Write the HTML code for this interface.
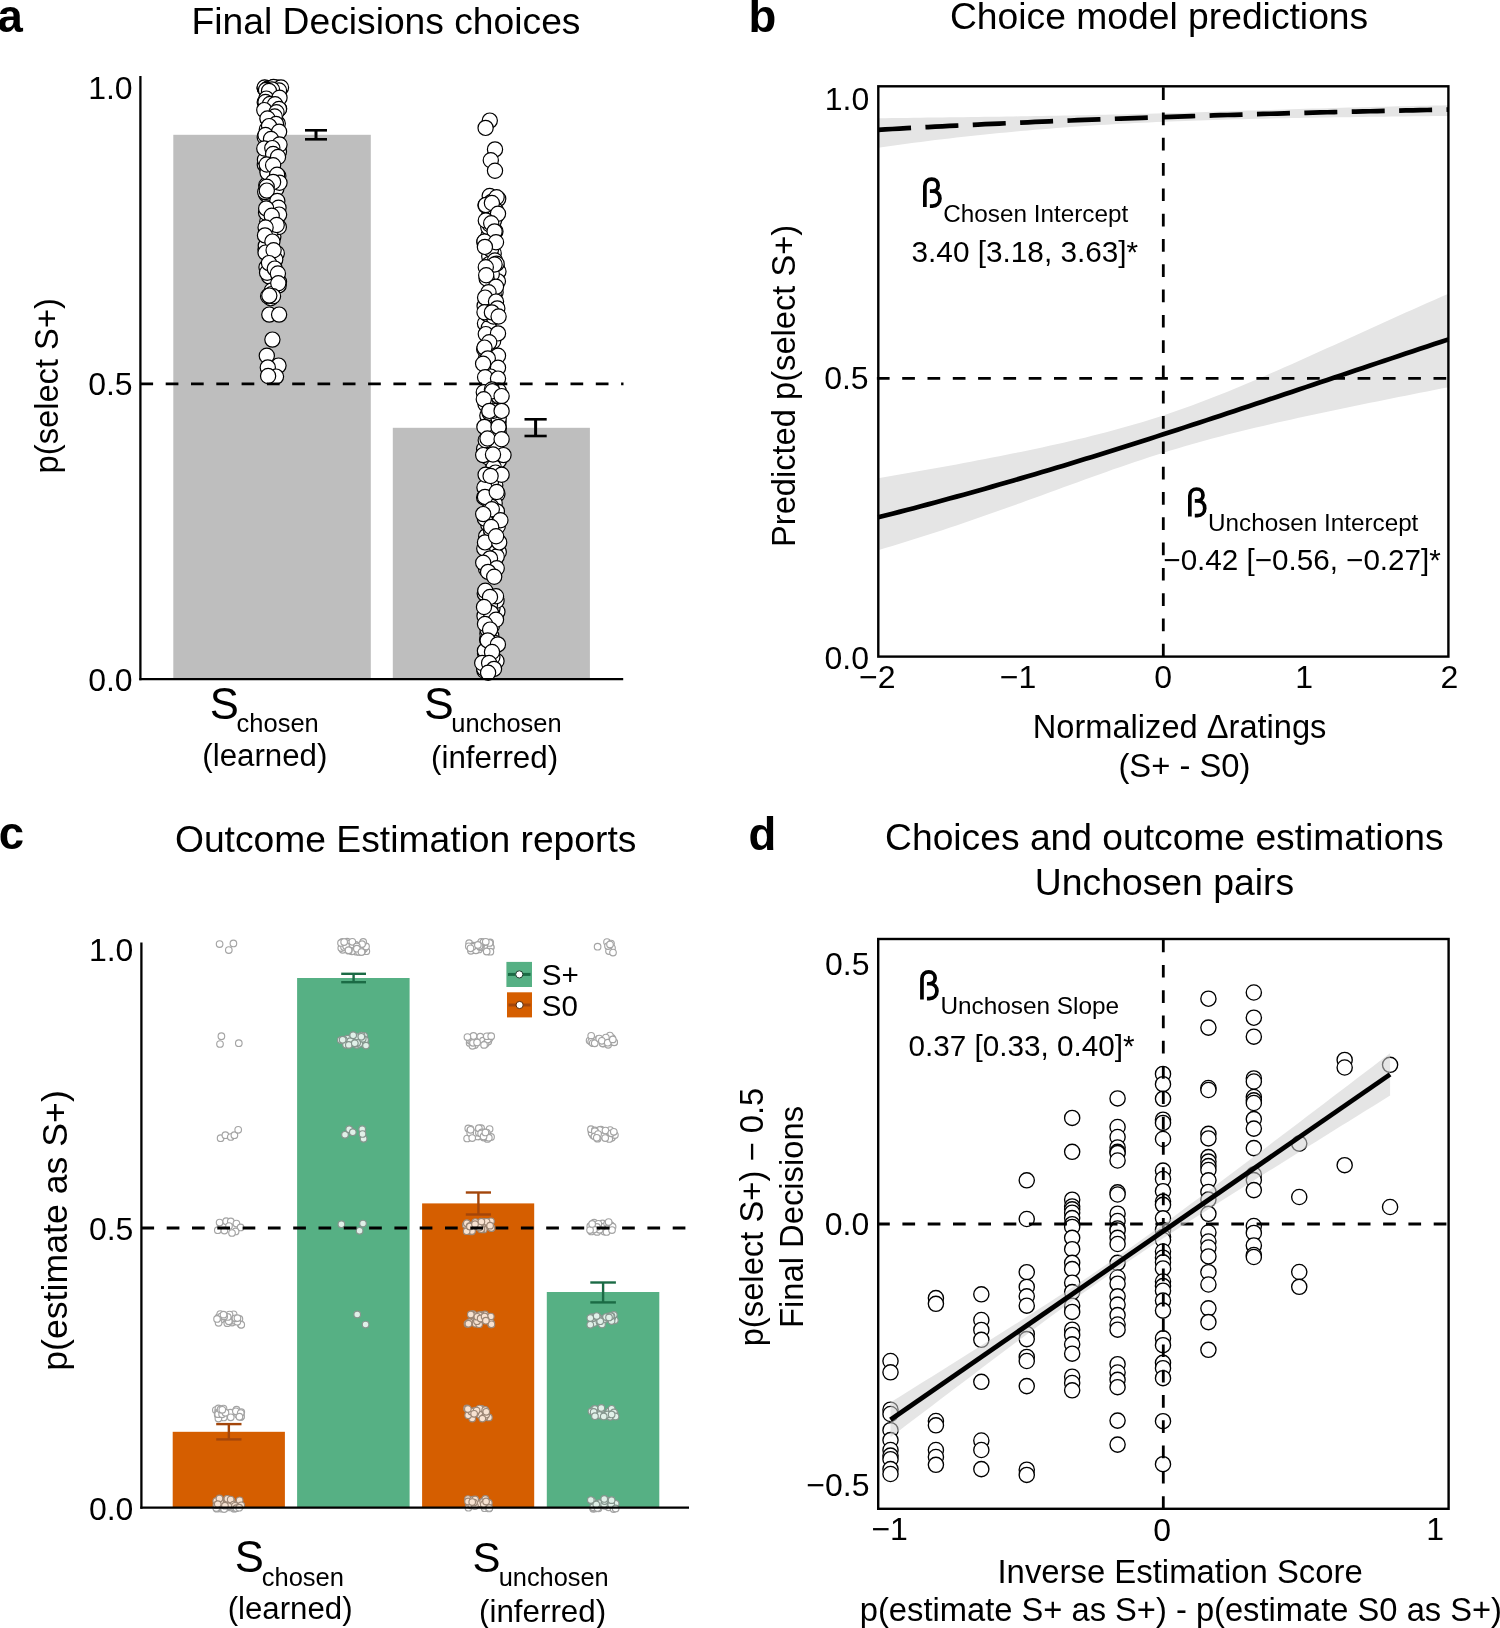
<!DOCTYPE html>
<html><head><meta charset="utf-8"><title>figure</title>
<style>
html,body{margin:0;padding:0;background:#fff;}
svg{display:block;will-change:transform;}
text{font-family:"Liberation Sans", sans-serif;fill:#000;}
</style></head><body>
<svg width="1500" height="1628" viewBox="0 0 1500 1628">
<rect x="0" y="0" width="1500" height="1628" fill="#fff"/>
<g id="pa">
<rect x="173.30" y="134.80" width="197.50" height="544.20" fill="#bebebe"/>
<rect x="392.80" y="427.80" width="197.10" height="251.20" fill="#bebebe"/>
<circle cx="264.83" cy="164.69" r="7.6" fill="#fff" stroke="#000" stroke-width="1.2"/>
<circle cx="497.74" cy="526.29" r="7.6" fill="#fff" stroke="#000" stroke-width="1.2"/>
<circle cx="485.91" cy="619.26" r="7.6" fill="#fff" stroke="#000" stroke-width="1.2"/>
<circle cx="492.10" cy="598.48" r="7.6" fill="#fff" stroke="#000" stroke-width="1.2"/>
<circle cx="493.50" cy="303.44" r="7.6" fill="#fff" stroke="#000" stroke-width="1.2"/>
<circle cx="269.31" cy="146.36" r="7.6" fill="#fff" stroke="#000" stroke-width="1.2"/>
<circle cx="493.14" cy="463.95" r="7.6" fill="#fff" stroke="#000" stroke-width="1.2"/>
<circle cx="487.12" cy="639.74" r="7.6" fill="#fff" stroke="#000" stroke-width="1.2"/>
<circle cx="487.40" cy="542.64" r="7.6" fill="#fff" stroke="#000" stroke-width="1.2"/>
<circle cx="486.23" cy="536.17" r="7.6" fill="#fff" stroke="#000" stroke-width="1.2"/>
<circle cx="488.49" cy="235.49" r="7.6" fill="#fff" stroke="#000" stroke-width="1.2"/>
<circle cx="484.10" cy="449.07" r="7.6" fill="#fff" stroke="#000" stroke-width="1.2"/>
<circle cx="492.96" cy="424.52" r="7.6" fill="#fff" stroke="#000" stroke-width="1.2"/>
<circle cx="276.43" cy="89.38" r="7.6" fill="#fff" stroke="#000" stroke-width="1.2"/>
<circle cx="494.73" cy="562.27" r="7.6" fill="#fff" stroke="#000" stroke-width="1.2"/>
<circle cx="493.65" cy="253.20" r="7.6" fill="#fff" stroke="#000" stroke-width="1.2"/>
<circle cx="487.86" cy="245.74" r="7.6" fill="#fff" stroke="#000" stroke-width="1.2"/>
<circle cx="489.70" cy="195.98" r="7.6" fill="#fff" stroke="#000" stroke-width="1.2"/>
<circle cx="487.02" cy="331.67" r="7.6" fill="#fff" stroke="#000" stroke-width="1.2"/>
<circle cx="269.13" cy="276.41" r="7.6" fill="#fff" stroke="#000" stroke-width="1.2"/>
<circle cx="489.66" cy="361.07" r="7.6" fill="#fff" stroke="#000" stroke-width="1.2"/>
<circle cx="491.25" cy="635.77" r="7.6" fill="#fff" stroke="#000" stroke-width="1.2"/>
<circle cx="266.03" cy="194.08" r="7.6" fill="#fff" stroke="#000" stroke-width="1.2"/>
<circle cx="495.20" cy="469.24" r="7.6" fill="#fff" stroke="#000" stroke-width="1.2"/>
<circle cx="484.12" cy="497.56" r="7.6" fill="#fff" stroke="#000" stroke-width="1.2"/>
<circle cx="278.66" cy="285.41" r="7.6" fill="#fff" stroke="#000" stroke-width="1.2"/>
<circle cx="491.49" cy="201.88" r="7.6" fill="#fff" stroke="#000" stroke-width="1.2"/>
<circle cx="272.57" cy="114.76" r="7.6" fill="#fff" stroke="#000" stroke-width="1.2"/>
<circle cx="487.97" cy="457.31" r="7.6" fill="#fff" stroke="#000" stroke-width="1.2"/>
<circle cx="491.09" cy="319.45" r="7.6" fill="#fff" stroke="#000" stroke-width="1.2"/>
<circle cx="488.41" cy="479.06" r="7.6" fill="#fff" stroke="#000" stroke-width="1.2"/>
<circle cx="264.73" cy="102.34" r="7.6" fill="#fff" stroke="#000" stroke-width="1.2"/>
<circle cx="489.48" cy="213.57" r="7.6" fill="#fff" stroke="#000" stroke-width="1.2"/>
<circle cx="484.99" cy="323.47" r="7.6" fill="#fff" stroke="#000" stroke-width="1.2"/>
<circle cx="496.15" cy="378.64" r="7.6" fill="#fff" stroke="#000" stroke-width="1.2"/>
<circle cx="271.54" cy="87.99" r="7.6" fill="#fff" stroke="#000" stroke-width="1.2"/>
<circle cx="489.76" cy="508.78" r="7.6" fill="#fff" stroke="#000" stroke-width="1.2"/>
<circle cx="490.99" cy="336.56" r="7.6" fill="#fff" stroke="#000" stroke-width="1.2"/>
<circle cx="267.76" cy="104.23" r="7.6" fill="#fff" stroke="#000" stroke-width="1.2"/>
<circle cx="498.51" cy="422.83" r="7.6" fill="#fff" stroke="#000" stroke-width="1.2"/>
<circle cx="272.63" cy="204.12" r="7.6" fill="#fff" stroke="#000" stroke-width="1.2"/>
<circle cx="276.74" cy="253.26" r="7.6" fill="#fff" stroke="#000" stroke-width="1.2"/>
<circle cx="274.65" cy="218.99" r="7.6" fill="#fff" stroke="#000" stroke-width="1.2"/>
<circle cx="270.05" cy="162.56" r="7.6" fill="#fff" stroke="#000" stroke-width="1.2"/>
<circle cx="271.83" cy="290.46" r="7.6" fill="#fff" stroke="#000" stroke-width="1.2"/>
<circle cx="498.21" cy="198.85" r="7.6" fill="#fff" stroke="#000" stroke-width="1.2"/>
<circle cx="275.60" cy="89.34" r="7.6" fill="#fff" stroke="#000" stroke-width="1.2"/>
<circle cx="271.38" cy="240.34" r="7.6" fill="#fff" stroke="#000" stroke-width="1.2"/>
<circle cx="498.78" cy="552.00" r="7.6" fill="#fff" stroke="#000" stroke-width="1.2"/>
<circle cx="497.48" cy="400.00" r="7.6" fill="#fff" stroke="#000" stroke-width="1.2"/>
<circle cx="488.06" cy="452.87" r="7.6" fill="#fff" stroke="#000" stroke-width="1.2"/>
<circle cx="495.22" cy="485.18" r="7.6" fill="#fff" stroke="#000" stroke-width="1.2"/>
<circle cx="496.24" cy="538.14" r="7.6" fill="#fff" stroke="#000" stroke-width="1.2"/>
<circle cx="494.46" cy="642.86" r="7.6" fill="#fff" stroke="#000" stroke-width="1.2"/>
<circle cx="492.68" cy="375.52" r="7.6" fill="#fff" stroke="#000" stroke-width="1.2"/>
<circle cx="494.46" cy="520.87" r="7.6" fill="#fff" stroke="#000" stroke-width="1.2"/>
<circle cx="497.40" cy="494.09" r="7.6" fill="#fff" stroke="#000" stroke-width="1.2"/>
<circle cx="264.96" cy="159.78" r="7.6" fill="#fff" stroke="#000" stroke-width="1.2"/>
<circle cx="495.78" cy="454.49" r="7.6" fill="#fff" stroke="#000" stroke-width="1.2"/>
<circle cx="496.07" cy="383.28" r="7.6" fill="#fff" stroke="#000" stroke-width="1.2"/>
<circle cx="498.93" cy="460.59" r="7.6" fill="#fff" stroke="#000" stroke-width="1.2"/>
<circle cx="273.62" cy="198.44" r="7.6" fill="#fff" stroke="#000" stroke-width="1.2"/>
<circle cx="493.13" cy="341.18" r="7.6" fill="#fff" stroke="#000" stroke-width="1.2"/>
<circle cx="493.25" cy="406.28" r="7.6" fill="#fff" stroke="#000" stroke-width="1.2"/>
<circle cx="276.34" cy="94.48" r="7.6" fill="#fff" stroke="#000" stroke-width="1.2"/>
<circle cx="278.99" cy="281.70" r="7.6" fill="#fff" stroke="#000" stroke-width="1.2"/>
<circle cx="498.81" cy="427.99" r="7.6" fill="#fff" stroke="#000" stroke-width="1.2"/>
<circle cx="491.46" cy="532.66" r="7.6" fill="#fff" stroke="#000" stroke-width="1.2"/>
<circle cx="273.71" cy="97.65" r="7.6" fill="#fff" stroke="#000" stroke-width="1.2"/>
<circle cx="269.76" cy="200.85" r="7.6" fill="#fff" stroke="#000" stroke-width="1.2"/>
<circle cx="270.65" cy="298.29" r="7.6" fill="#fff" stroke="#000" stroke-width="1.2"/>
<circle cx="485.50" cy="205.34" r="7.6" fill="#fff" stroke="#000" stroke-width="1.2"/>
<circle cx="488.35" cy="566.84" r="7.6" fill="#fff" stroke="#000" stroke-width="1.2"/>
<circle cx="488.83" cy="327.76" r="7.6" fill="#fff" stroke="#000" stroke-width="1.2"/>
<circle cx="485.03" cy="653.25" r="7.6" fill="#fff" stroke="#000" stroke-width="1.2"/>
<circle cx="273.32" cy="236.65" r="7.6" fill="#fff" stroke="#000" stroke-width="1.2"/>
<circle cx="488.42" cy="665.09" r="7.6" fill="#fff" stroke="#000" stroke-width="1.2"/>
<circle cx="272.66" cy="88.65" r="7.6" fill="#fff" stroke="#000" stroke-width="1.2"/>
<circle cx="494.56" cy="553.10" r="7.6" fill="#fff" stroke="#000" stroke-width="1.2"/>
<circle cx="497.40" cy="611.75" r="7.6" fill="#fff" stroke="#000" stroke-width="1.2"/>
<circle cx="484.75" cy="593.62" r="7.6" fill="#fff" stroke="#000" stroke-width="1.2"/>
<circle cx="484.29" cy="548.45" r="7.6" fill="#fff" stroke="#000" stroke-width="1.2"/>
<circle cx="495.44" cy="231.38" r="7.6" fill="#fff" stroke="#000" stroke-width="1.2"/>
<circle cx="490.83" cy="491.83" r="7.6" fill="#fff" stroke="#000" stroke-width="1.2"/>
<circle cx="487.34" cy="415.58" r="7.6" fill="#fff" stroke="#000" stroke-width="1.2"/>
<circle cx="276.65" cy="143.16" r="7.6" fill="#fff" stroke="#000" stroke-width="1.2"/>
<circle cx="492.16" cy="370.08" r="7.6" fill="#fff" stroke="#000" stroke-width="1.2"/>
<circle cx="266.83" cy="129.53" r="7.6" fill="#fff" stroke="#000" stroke-width="1.2"/>
<circle cx="493.16" cy="365.39" r="7.6" fill="#fff" stroke="#000" stroke-width="1.2"/>
<circle cx="485.88" cy="358.46" r="7.6" fill="#fff" stroke="#000" stroke-width="1.2"/>
<circle cx="493.70" cy="467.21" r="7.6" fill="#fff" stroke="#000" stroke-width="1.2"/>
<circle cx="498.86" cy="433.98" r="7.6" fill="#fff" stroke="#000" stroke-width="1.2"/>
<circle cx="493.72" cy="560.90" r="7.6" fill="#fff" stroke="#000" stroke-width="1.2"/>
<circle cx="278.27" cy="176.08" r="7.6" fill="#fff" stroke="#000" stroke-width="1.2"/>
<circle cx="490.64" cy="310.50" r="7.6" fill="#fff" stroke="#000" stroke-width="1.2"/>
<circle cx="266.49" cy="267.37" r="7.6" fill="#fff" stroke="#000" stroke-width="1.2"/>
<circle cx="269.10" cy="133.81" r="7.6" fill="#fff" stroke="#000" stroke-width="1.2"/>
<circle cx="492.01" cy="475.67" r="7.6" fill="#fff" stroke="#000" stroke-width="1.2"/>
<circle cx="496.90" cy="267.38" r="7.6" fill="#fff" stroke="#000" stroke-width="1.2"/>
<circle cx="484.94" cy="650.84" r="7.6" fill="#fff" stroke="#000" stroke-width="1.2"/>
<circle cx="496.50" cy="660.96" r="7.6" fill="#fff" stroke="#000" stroke-width="1.2"/>
<circle cx="488.25" cy="524.56" r="7.6" fill="#fff" stroke="#000" stroke-width="1.2"/>
<circle cx="493.69" cy="238.36" r="7.6" fill="#fff" stroke="#000" stroke-width="1.2"/>
<circle cx="486.18" cy="569.22" r="7.6" fill="#fff" stroke="#000" stroke-width="1.2"/>
<circle cx="489.28" cy="256.49" r="7.6" fill="#fff" stroke="#000" stroke-width="1.2"/>
<circle cx="492.37" cy="656.98" r="7.6" fill="#fff" stroke="#000" stroke-width="1.2"/>
<circle cx="490.64" cy="442.59" r="7.6" fill="#fff" stroke="#000" stroke-width="1.2"/>
<circle cx="264.94" cy="88.43" r="7.6" fill="#fff" stroke="#000" stroke-width="1.2"/>
<circle cx="485.28" cy="590.76" r="7.6" fill="#fff" stroke="#000" stroke-width="1.2"/>
<circle cx="490.96" cy="481.72" r="7.6" fill="#fff" stroke="#000" stroke-width="1.2"/>
<circle cx="278.65" cy="88.80" r="7.6" fill="#fff" stroke="#000" stroke-width="1.2"/>
<circle cx="277.75" cy="123.60" r="7.6" fill="#fff" stroke="#000" stroke-width="1.2"/>
<circle cx="494.86" cy="287.94" r="7.6" fill="#fff" stroke="#000" stroke-width="1.2"/>
<circle cx="275.65" cy="156.69" r="7.6" fill="#fff" stroke="#000" stroke-width="1.2"/>
<circle cx="489.61" cy="412.86" r="7.6" fill="#fff" stroke="#000" stroke-width="1.2"/>
<circle cx="488.41" cy="515.66" r="7.6" fill="#fff" stroke="#000" stroke-width="1.2"/>
<circle cx="269.73" cy="178.11" r="7.6" fill="#fff" stroke="#000" stroke-width="1.2"/>
<circle cx="495.78" cy="446.65" r="7.6" fill="#fff" stroke="#000" stroke-width="1.2"/>
<circle cx="484.51" cy="615.89" r="7.6" fill="#fff" stroke="#000" stroke-width="1.2"/>
<circle cx="487.40" cy="314.17" r="7.6" fill="#fff" stroke="#000" stroke-width="1.2"/>
<circle cx="498.68" cy="418.76" r="7.6" fill="#fff" stroke="#000" stroke-width="1.2"/>
<circle cx="274.78" cy="121.73" r="7.6" fill="#fff" stroke="#000" stroke-width="1.2"/>
<circle cx="493.15" cy="397.70" r="7.6" fill="#fff" stroke="#000" stroke-width="1.2"/>
<circle cx="487.67" cy="346.01" r="7.6" fill="#fff" stroke="#000" stroke-width="1.2"/>
<circle cx="485.75" cy="440.24" r="7.6" fill="#fff" stroke="#000" stroke-width="1.2"/>
<circle cx="273.83" cy="263.58" r="7.6" fill="#fff" stroke="#000" stroke-width="1.2"/>
<circle cx="489.31" cy="264.09" r="7.6" fill="#fff" stroke="#000" stroke-width="1.2"/>
<circle cx="278.01" cy="87.73" r="7.6" fill="#fff" stroke="#000" stroke-width="1.2"/>
<circle cx="279.04" cy="108.74" r="7.6" fill="#fff" stroke="#000" stroke-width="1.2"/>
<circle cx="484.37" cy="241.89" r="7.6" fill="#fff" stroke="#000" stroke-width="1.2"/>
<circle cx="495.59" cy="292.36" r="7.6" fill="#fff" stroke="#000" stroke-width="1.2"/>
<circle cx="498.45" cy="271.51" r="7.6" fill="#fff" stroke="#000" stroke-width="1.2"/>
<circle cx="488.25" cy="436.95" r="7.6" fill="#fff" stroke="#000" stroke-width="1.2"/>
<circle cx="487.41" cy="633.50" r="7.6" fill="#fff" stroke="#000" stroke-width="1.2"/>
<circle cx="492.46" cy="608.48" r="7.6" fill="#fff" stroke="#000" stroke-width="1.2"/>
<circle cx="491.09" cy="623.32" r="7.6" fill="#fff" stroke="#000" stroke-width="1.2"/>
<circle cx="495.51" cy="216.99" r="7.6" fill="#fff" stroke="#000" stroke-width="1.2"/>
<circle cx="265.23" cy="192.09" r="7.6" fill="#fff" stroke="#000" stroke-width="1.2"/>
<circle cx="495.62" cy="210.13" r="7.6" fill="#fff" stroke="#000" stroke-width="1.2"/>
<circle cx="274.99" cy="148.71" r="7.6" fill="#fff" stroke="#000" stroke-width="1.2"/>
<circle cx="271.71" cy="294.08" r="7.6" fill="#fff" stroke="#000" stroke-width="1.2"/>
<circle cx="272.36" cy="182.15" r="7.6" fill="#fff" stroke="#000" stroke-width="1.2"/>
<circle cx="490.40" cy="500.15" r="7.6" fill="#fff" stroke="#000" stroke-width="1.2"/>
<circle cx="496.53" cy="600.77" r="7.6" fill="#fff" stroke="#000" stroke-width="1.2"/>
<circle cx="493.92" cy="295.64" r="7.6" fill="#fff" stroke="#000" stroke-width="1.2"/>
<circle cx="267.69" cy="118.48" r="7.6" fill="#fff" stroke="#000" stroke-width="1.2"/>
<circle cx="276.34" cy="188.72" r="7.6" fill="#fff" stroke="#000" stroke-width="1.2"/>
<circle cx="266.28" cy="185.30" r="7.6" fill="#fff" stroke="#000" stroke-width="1.2"/>
<circle cx="267.26" cy="221.60" r="7.6" fill="#fff" stroke="#000" stroke-width="1.2"/>
<circle cx="269.63" cy="139.62" r="7.6" fill="#fff" stroke="#000" stroke-width="1.2"/>
<circle cx="489.59" cy="386.48" r="7.6" fill="#fff" stroke="#000" stroke-width="1.2"/>
<circle cx="492.90" cy="391.53" r="7.6" fill="#fff" stroke="#000" stroke-width="1.2"/>
<circle cx="490.96" cy="249.63" r="7.6" fill="#fff" stroke="#000" stroke-width="1.2"/>
<circle cx="494.66" cy="503.26" r="7.6" fill="#fff" stroke="#000" stroke-width="1.2"/>
<circle cx="488.30" cy="227.37" r="7.6" fill="#fff" stroke="#000" stroke-width="1.2"/>
<circle cx="498.45" cy="395.94" r="7.6" fill="#fff" stroke="#000" stroke-width="1.2"/>
<circle cx="484.48" cy="670.80" r="7.6" fill="#fff" stroke="#000" stroke-width="1.2"/>
<circle cx="273.84" cy="88.98" r="7.6" fill="#fff" stroke="#000" stroke-width="1.2"/>
<circle cx="490.00" cy="604.63" r="7.6" fill="#fff" stroke="#000" stroke-width="1.2"/>
<circle cx="485.54" cy="404.13" r="7.6" fill="#fff" stroke="#000" stroke-width="1.2"/>
<circle cx="494.11" cy="647.31" r="7.6" fill="#fff" stroke="#000" stroke-width="1.2"/>
<circle cx="275.88" cy="91.32" r="7.6" fill="#fff" stroke="#000" stroke-width="1.2"/>
<circle cx="278.81" cy="227.07" r="7.6" fill="#fff" stroke="#000" stroke-width="1.2"/>
<circle cx="270.68" cy="230.97" r="7.6" fill="#fff" stroke="#000" stroke-width="1.2"/>
<circle cx="266.09" cy="212.80" r="7.6" fill="#fff" stroke="#000" stroke-width="1.2"/>
<circle cx="264.70" cy="87.93" r="7.6" fill="#fff" stroke="#000" stroke-width="1.2"/>
<circle cx="484.13" cy="668.45" r="7.6" fill="#fff" stroke="#000" stroke-width="1.2"/>
<circle cx="264.75" cy="137.16" r="7.6" fill="#fff" stroke="#000" stroke-width="1.2"/>
<circle cx="268.92" cy="112.12" r="7.6" fill="#fff" stroke="#000" stroke-width="1.2"/>
<circle cx="493.41" cy="316.48" r="7.6" fill="#fff" stroke="#000" stroke-width="1.2"/>
<circle cx="269.44" cy="208.35" r="7.6" fill="#fff" stroke="#000" stroke-width="1.2"/>
<circle cx="265.46" cy="249.49" r="7.6" fill="#fff" stroke="#000" stroke-width="1.2"/>
<circle cx="495.46" cy="472.60" r="7.6" fill="#fff" stroke="#000" stroke-width="1.2"/>
<circle cx="484.45" cy="487.50" r="7.6" fill="#fff" stroke="#000" stroke-width="1.2"/>
<circle cx="268.69" cy="89.33" r="7.6" fill="#fff" stroke="#000" stroke-width="1.2"/>
<circle cx="490.22" cy="430.64" r="7.6" fill="#fff" stroke="#000" stroke-width="1.2"/>
<circle cx="494.29" cy="285.44" r="7.6" fill="#fff" stroke="#000" stroke-width="1.2"/>
<circle cx="488.27" cy="353.42" r="7.6" fill="#fff" stroke="#000" stroke-width="1.2"/>
<circle cx="484.90" cy="518.67" r="7.6" fill="#fff" stroke="#000" stroke-width="1.2"/>
<circle cx="489.51" cy="224.21" r="7.6" fill="#fff" stroke="#000" stroke-width="1.2"/>
<circle cx="491.17" cy="530.10" r="7.6" fill="#fff" stroke="#000" stroke-width="1.2"/>
<circle cx="497.89" cy="281.35" r="7.6" fill="#fff" stroke="#000" stroke-width="1.2"/>
<circle cx="267.34" cy="169.71" r="7.6" fill="#fff" stroke="#000" stroke-width="1.2"/>
<circle cx="487.54" cy="629.60" r="7.6" fill="#fff" stroke="#000" stroke-width="1.2"/>
<circle cx="484.60" cy="305.92" r="7.6" fill="#fff" stroke="#000" stroke-width="1.2"/>
<circle cx="491.76" cy="274.26" r="7.6" fill="#fff" stroke="#000" stroke-width="1.2"/>
<circle cx="493.36" cy="574.09" r="7.6" fill="#fff" stroke="#000" stroke-width="1.2"/>
<circle cx="491.22" cy="506.82" r="7.6" fill="#fff" stroke="#000" stroke-width="1.2"/>
<circle cx="494.97" cy="260.46" r="7.6" fill="#fff" stroke="#000" stroke-width="1.2"/>
<circle cx="493.89" cy="220.72" r="7.6" fill="#fff" stroke="#000" stroke-width="1.2"/>
<circle cx="267.09" cy="272.69" r="7.6" fill="#fff" stroke="#000" stroke-width="1.2"/>
<circle cx="486.63" cy="278.47" r="7.6" fill="#fff" stroke="#000" stroke-width="1.2"/>
<circle cx="493.31" cy="299.95" r="7.6" fill="#fff" stroke="#000" stroke-width="1.2"/>
<circle cx="496.85" cy="511.39" r="7.6" fill="#fff" stroke="#000" stroke-width="1.2"/>
<circle cx="490.19" cy="571.32" r="7.6" fill="#fff" stroke="#000" stroke-width="1.2"/>
<circle cx="267.57" cy="172.51" r="7.6" fill="#fff" stroke="#000" stroke-width="1.2"/>
<circle cx="265.78" cy="245.83" r="7.6" fill="#fff" stroke="#000" stroke-width="1.2"/>
<circle cx="493.47" cy="410.78" r="7.6" fill="#fff" stroke="#000" stroke-width="1.2"/>
<circle cx="495.93" cy="545.33" r="7.6" fill="#fff" stroke="#000" stroke-width="1.2"/>
<circle cx="269.97" cy="126.53" r="7.6" fill="#fff" stroke="#000" stroke-width="1.2"/>
<circle cx="278.94" cy="151.85" r="7.6" fill="#fff" stroke="#000" stroke-width="1.2"/>
<circle cx="491.80" cy="626.24" r="7.6" fill="#fff" stroke="#000" stroke-width="1.2"/>
<circle cx="275.24" cy="259.40" r="7.6" fill="#fff" stroke="#000" stroke-width="1.2"/>
<circle cx="496.70" cy="556.44" r="7.6" fill="#fff" stroke="#000" stroke-width="1.2"/>
<circle cx="484.21" cy="349.21" r="7.6" fill="#fff" stroke="#000" stroke-width="1.2"/>
<circle cx="264.70" cy="87.50" r="7.6" fill="#fff" stroke="#000" stroke-width="1.2"/>
<circle cx="268.00" cy="88.50" r="7.6" fill="#fff" stroke="#000" stroke-width="1.2"/>
<circle cx="271.00" cy="88.00" r="7.6" fill="#fff" stroke="#000" stroke-width="1.2"/>
<circle cx="274.00" cy="88.60" r="7.6" fill="#fff" stroke="#000" stroke-width="1.2"/>
<circle cx="277.00" cy="88.00" r="7.6" fill="#fff" stroke="#000" stroke-width="1.2"/>
<circle cx="280.00" cy="88.80" r="7.6" fill="#fff" stroke="#000" stroke-width="1.2"/>
<circle cx="273.50" cy="87.00" r="7.6" fill="#fff" stroke="#000" stroke-width="1.2"/>
<circle cx="281.00" cy="87.50" r="7.6" fill="#fff" stroke="#000" stroke-width="1.2"/>
<circle cx="266.00" cy="90.00" r="7.6" fill="#fff" stroke="#000" stroke-width="1.2"/>
<circle cx="279.00" cy="90.50" r="7.6" fill="#fff" stroke="#000" stroke-width="1.2"/>
<circle cx="272.00" cy="89.50" r="7.6" fill="#fff" stroke="#000" stroke-width="1.2"/>
<circle cx="269.00" cy="91.00" r="7.6" fill="#fff" stroke="#000" stroke-width="1.2"/>
<circle cx="266.30" cy="98.60" r="7.6" fill="#fff" stroke="#000" stroke-width="1.2"/>
<circle cx="279.50" cy="97.80" r="7.6" fill="#fff" stroke="#000" stroke-width="1.2"/>
<circle cx="265.50" cy="102.00" r="7.6" fill="#fff" stroke="#000" stroke-width="1.2"/>
<circle cx="270.00" cy="104.00" r="7.6" fill="#fff" stroke="#000" stroke-width="1.2"/>
<circle cx="275.10" cy="104.20" r="7.6" fill="#fff" stroke="#000" stroke-width="1.2"/>
<circle cx="264.30" cy="110.10" r="7.6" fill="#fff" stroke="#000" stroke-width="1.2"/>
<circle cx="279.00" cy="109.00" r="7.6" fill="#fff" stroke="#000" stroke-width="1.2"/>
<circle cx="276.50" cy="112.20" r="7.6" fill="#fff" stroke="#000" stroke-width="1.2"/>
<circle cx="274.70" cy="116.50" r="7.6" fill="#fff" stroke="#000" stroke-width="1.2"/>
<circle cx="267.50" cy="118.50" r="7.6" fill="#fff" stroke="#000" stroke-width="1.2"/>
<circle cx="276.00" cy="124.00" r="7.6" fill="#fff" stroke="#000" stroke-width="1.2"/>
<circle cx="269.10" cy="126.10" r="7.6" fill="#fff" stroke="#000" stroke-width="1.2"/>
<circle cx="279.10" cy="131.70" r="7.6" fill="#fff" stroke="#000" stroke-width="1.2"/>
<circle cx="265.50" cy="135.00" r="7.6" fill="#fff" stroke="#000" stroke-width="1.2"/>
<circle cx="271.00" cy="139.00" r="7.6" fill="#fff" stroke="#000" stroke-width="1.2"/>
<circle cx="279.50" cy="144.50" r="7.6" fill="#fff" stroke="#000" stroke-width="1.2"/>
<circle cx="264.30" cy="148.50" r="7.6" fill="#fff" stroke="#000" stroke-width="1.2"/>
<circle cx="272.30" cy="148.10" r="7.6" fill="#fff" stroke="#000" stroke-width="1.2"/>
<circle cx="273.10" cy="154.00" r="7.6" fill="#fff" stroke="#000" stroke-width="1.2"/>
<circle cx="278.00" cy="157.00" r="7.6" fill="#fff" stroke="#000" stroke-width="1.2"/>
<circle cx="266.70" cy="164.50" r="7.6" fill="#fff" stroke="#000" stroke-width="1.2"/>
<circle cx="273.10" cy="165.30" r="7.6" fill="#fff" stroke="#000" stroke-width="1.2"/>
<circle cx="277.10" cy="174.80" r="7.6" fill="#fff" stroke="#000" stroke-width="1.2"/>
<circle cx="279.50" cy="182.80" r="7.6" fill="#fff" stroke="#000" stroke-width="1.2"/>
<circle cx="273.10" cy="182.00" r="7.6" fill="#fff" stroke="#000" stroke-width="1.2"/>
<circle cx="266.70" cy="186.80" r="7.6" fill="#fff" stroke="#000" stroke-width="1.2"/>
<circle cx="266.80" cy="190.60" r="7.6" fill="#fff" stroke="#000" stroke-width="1.2"/>
<circle cx="277.30" cy="201.00" r="7.6" fill="#fff" stroke="#000" stroke-width="1.2"/>
<circle cx="278.50" cy="207.80" r="7.6" fill="#fff" stroke="#000" stroke-width="1.2"/>
<circle cx="266.20" cy="208.40" r="7.6" fill="#fff" stroke="#000" stroke-width="1.2"/>
<circle cx="279.10" cy="214.60" r="7.6" fill="#fff" stroke="#000" stroke-width="1.2"/>
<circle cx="271.70" cy="215.80" r="7.6" fill="#fff" stroke="#000" stroke-width="1.2"/>
<circle cx="276.70" cy="225.00" r="7.6" fill="#fff" stroke="#000" stroke-width="1.2"/>
<circle cx="265.60" cy="227.50" r="7.6" fill="#fff" stroke="#000" stroke-width="1.2"/>
<circle cx="265.00" cy="235.40" r="7.6" fill="#fff" stroke="#000" stroke-width="1.2"/>
<circle cx="272.40" cy="241.60" r="7.6" fill="#fff" stroke="#000" stroke-width="1.2"/>
<circle cx="265.60" cy="252.60" r="7.6" fill="#fff" stroke="#000" stroke-width="1.2"/>
<circle cx="273.60" cy="250.20" r="7.6" fill="#fff" stroke="#000" stroke-width="1.2"/>
<circle cx="269.00" cy="263.10" r="7.6" fill="#fff" stroke="#000" stroke-width="1.2"/>
<circle cx="274.80" cy="268.60" r="7.6" fill="#fff" stroke="#000" stroke-width="1.2"/>
<circle cx="277.90" cy="273.50" r="7.6" fill="#fff" stroke="#000" stroke-width="1.2"/>
<circle cx="278.30" cy="283.30" r="7.6" fill="#fff" stroke="#000" stroke-width="1.2"/>
<circle cx="268.10" cy="296.20" r="7.6" fill="#fff" stroke="#000" stroke-width="1.2"/>
<circle cx="273.00" cy="296.20" r="7.6" fill="#fff" stroke="#000" stroke-width="1.2"/>
<circle cx="269.30" cy="295.60" r="7.6" fill="#fff" stroke="#000" stroke-width="1.2"/>
<circle cx="269.30" cy="314.60" r="7.6" fill="#fff" stroke="#000" stroke-width="1.2"/>
<circle cx="279.10" cy="314.60" r="7.6" fill="#fff" stroke="#000" stroke-width="1.2"/>
<circle cx="272.40" cy="339.60" r="7.6" fill="#fff" stroke="#000" stroke-width="1.2"/>
<circle cx="266.80" cy="355.80" r="7.6" fill="#fff" stroke="#000" stroke-width="1.2"/>
<circle cx="278.50" cy="365.60" r="7.6" fill="#fff" stroke="#000" stroke-width="1.2"/>
<circle cx="267.80" cy="367.40" r="7.6" fill="#fff" stroke="#000" stroke-width="1.2"/>
<circle cx="276.00" cy="376.60" r="7.6" fill="#fff" stroke="#000" stroke-width="1.2"/>
<circle cx="268.10" cy="376.00" r="7.6" fill="#fff" stroke="#000" stroke-width="1.2"/>
<circle cx="489.80" cy="120.60" r="7.6" fill="#fff" stroke="#000" stroke-width="1.2"/>
<circle cx="485.60" cy="127.90" r="7.6" fill="#fff" stroke="#000" stroke-width="1.2"/>
<circle cx="495.00" cy="149.40" r="7.6" fill="#fff" stroke="#000" stroke-width="1.2"/>
<circle cx="490.80" cy="160.30" r="7.6" fill="#fff" stroke="#000" stroke-width="1.2"/>
<circle cx="495.00" cy="170.70" r="7.6" fill="#fff" stroke="#000" stroke-width="1.2"/>
<circle cx="496.60" cy="197.30" r="7.6" fill="#fff" stroke="#000" stroke-width="1.2"/>
<circle cx="485.80" cy="205.00" r="7.6" fill="#fff" stroke="#000" stroke-width="1.2"/>
<circle cx="491.90" cy="203.00" r="7.6" fill="#fff" stroke="#000" stroke-width="1.2"/>
<circle cx="498.00" cy="213.80" r="7.6" fill="#fff" stroke="#000" stroke-width="1.2"/>
<circle cx="485.80" cy="220.50" r="7.6" fill="#fff" stroke="#000" stroke-width="1.2"/>
<circle cx="491.20" cy="223.20" r="7.6" fill="#fff" stroke="#000" stroke-width="1.2"/>
<circle cx="494.60" cy="231.40" r="7.6" fill="#fff" stroke="#000" stroke-width="1.2"/>
<circle cx="484.50" cy="241.50" r="7.6" fill="#fff" stroke="#000" stroke-width="1.2"/>
<circle cx="496.00" cy="242.20" r="7.6" fill="#fff" stroke="#000" stroke-width="1.2"/>
<circle cx="484.90" cy="246.90" r="7.6" fill="#fff" stroke="#000" stroke-width="1.2"/>
<circle cx="496.60" cy="263.80" r="7.6" fill="#fff" stroke="#000" stroke-width="1.2"/>
<circle cx="494.60" cy="264.50" r="7.6" fill="#fff" stroke="#000" stroke-width="1.2"/>
<circle cx="485.80" cy="267.20" r="7.6" fill="#fff" stroke="#000" stroke-width="1.2"/>
<circle cx="486.20" cy="275.30" r="7.6" fill="#fff" stroke="#000" stroke-width="1.2"/>
<circle cx="496.00" cy="286.80" r="7.6" fill="#fff" stroke="#000" stroke-width="1.2"/>
<circle cx="488.50" cy="292.20" r="7.6" fill="#fff" stroke="#000" stroke-width="1.2"/>
<circle cx="485.10" cy="297.60" r="7.6" fill="#fff" stroke="#000" stroke-width="1.2"/>
<circle cx="496.00" cy="301.60" r="7.6" fill="#fff" stroke="#000" stroke-width="1.2"/>
<circle cx="497.30" cy="308.40" r="7.6" fill="#fff" stroke="#000" stroke-width="1.2"/>
<circle cx="484.50" cy="312.20" r="7.6" fill="#fff" stroke="#000" stroke-width="1.2"/>
<circle cx="491.90" cy="312.40" r="7.6" fill="#fff" stroke="#000" stroke-width="1.2"/>
<circle cx="498.60" cy="316.50" r="7.6" fill="#fff" stroke="#000" stroke-width="1.2"/>
<circle cx="485.80" cy="334.10" r="7.6" fill="#fff" stroke="#000" stroke-width="1.2"/>
<circle cx="498.00" cy="333.40" r="7.6" fill="#fff" stroke="#000" stroke-width="1.2"/>
<circle cx="489.20" cy="342.20" r="7.6" fill="#fff" stroke="#000" stroke-width="1.2"/>
<circle cx="484.50" cy="347.60" r="7.6" fill="#fff" stroke="#000" stroke-width="1.2"/>
<circle cx="498.00" cy="355.70" r="7.6" fill="#fff" stroke="#000" stroke-width="1.2"/>
<circle cx="487.80" cy="358.40" r="7.6" fill="#fff" stroke="#000" stroke-width="1.2"/>
<circle cx="483.10" cy="363.80" r="7.6" fill="#fff" stroke="#000" stroke-width="1.2"/>
<circle cx="498.00" cy="367.80" r="7.6" fill="#fff" stroke="#000" stroke-width="1.2"/>
<circle cx="490.50" cy="376.60" r="7.6" fill="#fff" stroke="#000" stroke-width="1.2"/>
<circle cx="485.10" cy="377.30" r="7.6" fill="#fff" stroke="#000" stroke-width="1.2"/>
<circle cx="498.00" cy="378.60" r="7.6" fill="#fff" stroke="#000" stroke-width="1.2"/>
<circle cx="483.80" cy="392.20" r="7.6" fill="#fff" stroke="#000" stroke-width="1.2"/>
<circle cx="498.60" cy="390.80" r="7.6" fill="#fff" stroke="#000" stroke-width="1.2"/>
<circle cx="491.90" cy="389.50" r="7.6" fill="#fff" stroke="#000" stroke-width="1.2"/>
<circle cx="492.40" cy="391.20" r="7.6" fill="#fff" stroke="#000" stroke-width="1.2"/>
<circle cx="483.80" cy="399.20" r="7.6" fill="#fff" stroke="#000" stroke-width="1.2"/>
<circle cx="501.60" cy="396.10" r="7.6" fill="#fff" stroke="#000" stroke-width="1.2"/>
<circle cx="489.30" cy="410.90" r="7.6" fill="#fff" stroke="#000" stroke-width="1.2"/>
<circle cx="501.60" cy="410.90" r="7.6" fill="#fff" stroke="#000" stroke-width="1.2"/>
<circle cx="484.40" cy="426.90" r="7.6" fill="#fff" stroke="#000" stroke-width="1.2"/>
<circle cx="498.50" cy="426.90" r="7.6" fill="#fff" stroke="#000" stroke-width="1.2"/>
<circle cx="487.50" cy="438.50" r="7.6" fill="#fff" stroke="#000" stroke-width="1.2"/>
<circle cx="501.60" cy="439.20" r="7.6" fill="#fff" stroke="#000" stroke-width="1.2"/>
<circle cx="483.20" cy="455.10" r="7.6" fill="#fff" stroke="#000" stroke-width="1.2"/>
<circle cx="503.50" cy="455.10" r="7.6" fill="#fff" stroke="#000" stroke-width="1.2"/>
<circle cx="493.00" cy="454.50" r="7.6" fill="#fff" stroke="#000" stroke-width="1.2"/>
<circle cx="485.60" cy="474.80" r="7.6" fill="#fff" stroke="#000" stroke-width="1.2"/>
<circle cx="501.60" cy="474.80" r="7.6" fill="#fff" stroke="#000" stroke-width="1.2"/>
<circle cx="490.60" cy="476.00" r="7.6" fill="#fff" stroke="#000" stroke-width="1.2"/>
<circle cx="485.00" cy="496.90" r="7.6" fill="#fff" stroke="#000" stroke-width="1.2"/>
<circle cx="496.70" cy="492.00" r="7.6" fill="#fff" stroke="#000" stroke-width="1.2"/>
<circle cx="491.80" cy="509.20" r="7.6" fill="#fff" stroke="#000" stroke-width="1.2"/>
<circle cx="483.20" cy="514.10" r="7.6" fill="#fff" stroke="#000" stroke-width="1.2"/>
<circle cx="500.40" cy="520.30" r="7.6" fill="#fff" stroke="#000" stroke-width="1.2"/>
<circle cx="491.20" cy="527.00" r="7.6" fill="#fff" stroke="#000" stroke-width="1.2"/>
<circle cx="485.00" cy="542.40" r="7.6" fill="#fff" stroke="#000" stroke-width="1.2"/>
<circle cx="499.20" cy="542.40" r="7.6" fill="#fff" stroke="#000" stroke-width="1.2"/>
<circle cx="496.10" cy="536.20" r="7.6" fill="#fff" stroke="#000" stroke-width="1.2"/>
<circle cx="490.00" cy="558.40" r="7.6" fill="#fff" stroke="#000" stroke-width="1.2"/>
<circle cx="483.20" cy="562.70" r="7.6" fill="#fff" stroke="#000" stroke-width="1.2"/>
<circle cx="496.70" cy="568.20" r="7.6" fill="#fff" stroke="#000" stroke-width="1.2"/>
<circle cx="488.10" cy="571.90" r="7.6" fill="#fff" stroke="#000" stroke-width="1.2"/>
<circle cx="494.20" cy="576.80" r="7.6" fill="#fff" stroke="#000" stroke-width="1.2"/>
<circle cx="496.00" cy="596.20" r="7.6" fill="#fff" stroke="#000" stroke-width="1.2"/>
<circle cx="490.00" cy="597.00" r="7.6" fill="#fff" stroke="#000" stroke-width="1.2"/>
<circle cx="491.00" cy="612.90" r="7.6" fill="#fff" stroke="#000" stroke-width="1.2"/>
<circle cx="484.00" cy="607.00" r="7.6" fill="#fff" stroke="#000" stroke-width="1.2"/>
<circle cx="496.00" cy="619.80" r="7.6" fill="#fff" stroke="#000" stroke-width="1.2"/>
<circle cx="485.00" cy="624.00" r="7.6" fill="#fff" stroke="#000" stroke-width="1.2"/>
<circle cx="490.10" cy="629.60" r="7.6" fill="#fff" stroke="#000" stroke-width="1.2"/>
<circle cx="487.70" cy="640.40" r="7.6" fill="#fff" stroke="#000" stroke-width="1.2"/>
<circle cx="497.90" cy="644.40" r="7.6" fill="#fff" stroke="#000" stroke-width="1.2"/>
<circle cx="492.00" cy="652.00" r="7.6" fill="#fff" stroke="#000" stroke-width="1.2"/>
<circle cx="482.20" cy="663.00" r="7.6" fill="#fff" stroke="#000" stroke-width="1.2"/>
<circle cx="489.10" cy="663.00" r="7.6" fill="#fff" stroke="#000" stroke-width="1.2"/>
<circle cx="494.00" cy="668.90" r="7.6" fill="#fff" stroke="#000" stroke-width="1.2"/>
<circle cx="488.10" cy="672.80" r="7.6" fill="#fff" stroke="#000" stroke-width="1.2"/>
<line x1="140.40" y1="383.80" x2="623.50" y2="383.80" stroke="#000" stroke-width="2.7" stroke-linecap="butt" stroke-dasharray="12.7 12.6" />
<line x1="305.00" y1="130.30" x2="327.00" y2="130.30" stroke="#000" stroke-width="2.6" stroke-linecap="butt" />
<line x1="305.00" y1="139.30" x2="327.00" y2="139.30" stroke="#000" stroke-width="2.6" stroke-linecap="butt" />
<line x1="316.00" y1="130.30" x2="316.00" y2="139.30" stroke="#000" stroke-width="3.0" stroke-linecap="butt" />
<line x1="524.50" y1="419.30" x2="546.70" y2="419.30" stroke="#000" stroke-width="2.6" stroke-linecap="butt" />
<line x1="524.50" y1="436.00" x2="546.70" y2="436.00" stroke="#000" stroke-width="2.6" stroke-linecap="butt" />
<line x1="535.60" y1="419.30" x2="535.60" y2="436.00" stroke="#000" stroke-width="3.0" stroke-linecap="butt" />
<line x1="140.40" y1="76.10" x2="140.40" y2="680.20" stroke="#000" stroke-width="2.3" stroke-linecap="butt" />
<line x1="139.30" y1="679.10" x2="623.20" y2="679.10" stroke="#000" stroke-width="2.3" stroke-linecap="butt" />
</g>
<g id="pb">
<path d="M878.10,118.23 L885.23,118.15 L892.36,118.06 L899.49,117.97 L906.62,117.89 L913.75,117.80 L920.88,117.71 L928.01,117.62 L935.14,117.53 L942.27,117.43 L949.40,117.34 L956.53,117.24 L963.66,117.15 L970.79,117.05 L977.92,116.95 L985.05,116.85 L992.18,116.74 L999.31,116.64 L1006.44,116.53 L1013.57,116.42 L1020.70,116.31 L1027.83,116.19 L1034.96,116.07 L1042.09,115.95 L1049.22,115.83 L1056.35,115.70 L1063.48,115.57 L1070.61,115.44 L1077.74,115.30 L1084.87,115.16 L1092.00,115.01 L1099.13,114.86 L1106.26,114.71 L1113.39,114.55 L1120.52,114.39 L1127.65,114.22 L1134.78,114.05 L1141.91,113.87 L1149.04,113.69 L1156.17,113.50 L1163.30,113.31 L1170.43,113.10 L1177.56,112.88 L1184.69,112.66 L1191.82,112.44 L1198.95,112.21 L1206.08,111.98 L1213.21,111.76 L1220.34,111.53 L1227.47,111.30 L1234.60,111.07 L1241.73,110.84 L1248.86,110.61 L1255.99,110.38 L1263.12,110.16 L1270.25,109.93 L1277.38,109.71 L1284.51,109.49 L1291.64,109.27 L1298.77,109.05 L1305.90,108.84 L1313.03,108.62 L1320.16,108.42 L1327.29,108.21 L1334.42,108.01 L1341.55,107.81 L1348.68,107.62 L1355.81,107.42 L1362.94,107.23 L1370.07,107.05 L1377.20,106.87 L1384.33,106.69 L1391.46,106.52 L1398.59,106.34 L1405.72,106.18 L1412.85,106.01 L1419.98,105.85 L1427.11,105.70 L1434.24,105.54 L1441.37,105.39 L1448.50,105.24 L1448.50,115.94 L1441.37,116.02 L1434.24,116.09 L1427.11,116.17 L1419.98,116.25 L1412.85,116.33 L1405.72,116.42 L1398.59,116.50 L1391.46,116.59 L1384.33,116.68 L1377.20,116.77 L1370.07,116.86 L1362.94,116.95 L1355.81,117.05 L1348.68,117.15 L1341.55,117.26 L1334.42,117.36 L1327.29,117.47 L1320.16,117.59 L1313.03,117.70 L1305.90,117.82 L1298.77,117.95 L1291.64,118.08 L1284.51,118.22 L1277.38,118.36 L1270.25,118.50 L1263.12,118.66 L1255.99,118.82 L1248.86,118.98 L1241.73,119.16 L1234.60,119.34 L1227.47,119.53 L1220.34,119.74 L1213.21,119.95 L1206.08,120.17 L1198.95,120.40 L1191.82,120.65 L1184.69,120.90 L1177.56,121.17 L1170.43,121.46 L1163.30,121.75 L1156.17,122.06 L1149.04,122.39 L1141.91,122.73 L1134.78,123.09 L1127.65,123.46 L1120.52,123.85 L1113.39,124.26 L1106.26,124.68 L1099.13,125.12 L1092.00,125.57 L1084.87,126.04 L1077.74,126.53 L1070.61,127.04 L1063.48,127.56 L1056.35,128.11 L1049.22,128.67 L1042.09,129.24 L1034.96,129.84 L1027.83,130.45 L1020.70,131.08 L1013.57,131.73 L1006.44,132.40 L999.31,133.08 L992.18,133.79 L985.05,134.51 L977.92,135.26 L970.79,136.02 L963.66,136.80 L956.53,137.60 L949.40,138.42 L942.27,139.26 L935.14,140.12 L928.01,141.00 L920.88,141.91 L913.75,142.83 L906.62,143.78 L899.49,144.74 L892.36,145.73 L885.23,146.75 L878.10,147.78 Z" fill="#e5e5e5"/>
<path d="M878.10,478.29 L885.23,477.07 L892.36,475.85 L899.49,474.61 L906.62,473.37 L913.75,472.12 L920.88,470.86 L928.01,469.58 L935.14,468.30 L942.27,467.01 L949.40,465.71 L956.53,464.39 L963.66,463.06 L970.79,461.72 L977.92,460.37 L985.05,459.00 L992.18,457.62 L999.31,456.22 L1006.44,454.80 L1013.57,453.36 L1020.70,451.91 L1027.83,450.43 L1034.96,448.93 L1042.09,447.40 L1049.22,445.85 L1056.35,444.27 L1063.48,442.66 L1070.61,441.02 L1077.74,439.34 L1084.87,437.63 L1092.00,435.87 L1099.13,434.07 L1106.26,432.22 L1113.39,430.32 L1120.52,428.36 L1127.65,426.35 L1134.78,424.29 L1141.91,422.16 L1149.04,419.96 L1156.17,417.71 L1163.30,415.38 L1170.43,412.99 L1177.56,410.54 L1184.69,408.02 L1191.82,405.43 L1198.95,402.79 L1206.08,400.08 L1213.21,397.32 L1220.34,394.51 L1227.47,391.64 L1234.60,388.73 L1241.73,385.77 L1248.86,382.78 L1255.99,379.74 L1263.12,376.68 L1270.25,373.59 L1277.38,370.46 L1284.51,367.32 L1291.64,364.16 L1298.77,360.97 L1305.90,357.77 L1313.03,354.56 L1320.16,351.34 L1327.29,348.11 L1334.42,344.88 L1341.55,341.64 L1348.68,338.40 L1355.81,335.16 L1362.94,331.92 L1370.07,328.69 L1377.20,325.46 L1384.33,322.24 L1391.46,319.02 L1398.59,315.82 L1405.72,312.62 L1412.85,309.44 L1419.98,306.27 L1427.11,303.12 L1434.24,299.98 L1441.37,296.86 L1448.50,293.76 L1448.50,387.23 L1441.37,388.62 L1434.24,390.02 L1427.11,391.42 L1419.98,392.83 L1412.85,394.24 L1405.72,395.66 L1398.59,397.08 L1391.46,398.51 L1384.33,399.94 L1377.20,401.38 L1370.07,402.83 L1362.94,404.28 L1355.81,405.75 L1348.68,407.22 L1341.55,408.70 L1334.42,410.19 L1327.29,411.69 L1320.16,413.20 L1313.03,414.73 L1305.90,416.27 L1298.77,417.82 L1291.64,419.39 L1284.51,420.98 L1277.38,422.59 L1270.25,424.23 L1263.12,425.88 L1255.99,427.56 L1248.86,429.27 L1241.73,431.01 L1234.60,432.78 L1227.47,434.59 L1220.34,436.43 L1213.21,438.31 L1206.08,440.24 L1198.95,442.20 L1191.82,444.22 L1184.69,446.28 L1177.56,448.38 L1170.43,450.54 L1163.30,452.74 L1156.17,454.99 L1149.04,457.29 L1141.91,459.63 L1134.78,462.01 L1127.65,464.43 L1120.52,466.88 L1113.39,469.37 L1106.26,471.88 L1099.13,474.42 L1092.00,476.98 L1084.87,479.56 L1077.74,482.15 L1070.61,484.74 L1063.48,487.35 L1056.35,489.95 L1049.22,492.56 L1042.09,495.16 L1034.96,497.76 L1027.83,500.35 L1020.70,502.93 L1013.57,505.50 L1006.44,508.05 L999.31,510.59 L992.18,513.11 L985.05,515.61 L977.92,518.09 L970.79,520.55 L963.66,522.99 L956.53,525.40 L949.40,527.80 L942.27,530.16 L935.14,532.50 L928.01,534.82 L920.88,537.10 L913.75,539.36 L906.62,541.59 L899.49,543.80 L892.36,545.97 L885.23,548.12 L878.10,550.24 Z" fill="#e5e5e5"/>
<line x1="1163.30" y1="87.20" x2="1163.30" y2="656.60" stroke="#000" stroke-width="2.8" stroke-linecap="butt" stroke-dasharray="12.7 12.6" />
<line x1="876.90" y1="378.40" x2="1448.40" y2="378.40" stroke="#000" stroke-width="2.8" stroke-linecap="butt" stroke-dasharray="12.7 12.6" />
<path d="M878.10,129.78 L885.23,129.38 L892.36,128.98 L899.49,128.58 L906.62,128.19 L913.75,127.81 L920.88,127.43 L928.01,127.05 L935.14,126.68 L942.27,126.32 L949.40,125.96 L956.53,125.60 L963.66,125.25 L970.79,124.90 L977.92,124.56 L985.05,124.22 L992.18,123.89 L999.31,123.56 L1006.44,123.23 L1013.57,122.91 L1020.70,122.59 L1027.83,122.28 L1034.96,121.97 L1042.09,121.67 L1049.22,121.37 L1056.35,121.07 L1063.48,120.78 L1070.61,120.49 L1077.74,120.20 L1084.87,119.92 L1092.00,119.64 L1099.13,119.37 L1106.26,119.09 L1113.39,118.83 L1120.52,118.56 L1127.65,118.30 L1134.78,118.05 L1141.91,117.79 L1149.04,117.54 L1156.17,117.29 L1163.30,117.05 L1170.43,116.81 L1177.56,116.57 L1184.69,116.34 L1191.82,116.11 L1198.95,115.88 L1206.08,115.65 L1213.21,115.43 L1220.34,115.21 L1227.47,115.00 L1234.60,114.78 L1241.73,114.57 L1248.86,114.36 L1255.99,114.16 L1263.12,113.96 L1270.25,113.76 L1277.38,113.56 L1284.51,113.37 L1291.64,113.17 L1298.77,112.98 L1305.90,112.80 L1313.03,112.61 L1320.16,112.43 L1327.29,112.25 L1334.42,112.08 L1341.55,111.90 L1348.68,111.73 L1355.81,111.56 L1362.94,111.39 L1370.07,111.23 L1377.20,111.06 L1384.33,110.90 L1391.46,110.74 L1398.59,110.59 L1405.72,110.43 L1412.85,110.28 L1419.98,110.13 L1427.11,109.98 L1434.24,109.84 L1441.37,109.69 L1448.50,109.55" fill="none" stroke="#000" stroke-width="4.7" stroke-dasharray="33 14.4"/>
<path d="M878.10,517.34 L885.23,515.53 L892.36,513.71 L899.49,511.87 L906.62,510.02 L913.75,508.15 L920.88,506.27 L928.01,504.37 L935.14,502.46 L942.27,500.53 L949.40,498.59 L956.53,496.63 L963.66,494.66 L970.79,492.67 L977.92,490.67 L985.05,488.66 L992.18,486.63 L999.31,484.59 L1006.44,482.53 L1013.57,480.47 L1020.70,478.38 L1027.83,476.29 L1034.96,474.18 L1042.09,472.06 L1049.22,469.93 L1056.35,467.79 L1063.48,465.63 L1070.61,463.46 L1077.74,461.28 L1084.87,459.09 L1092.00,456.89 L1099.13,454.68 L1106.26,452.46 L1113.39,450.22 L1120.52,447.98 L1127.65,445.73 L1134.78,443.46 L1141.91,441.19 L1149.04,438.91 L1156.17,436.62 L1163.30,434.33 L1170.43,432.02 L1177.56,429.71 L1184.69,427.39 L1191.82,425.06 L1198.95,422.73 L1206.08,420.38 L1213.21,418.04 L1220.34,415.69 L1227.47,413.33 L1234.60,410.96 L1241.73,408.60 L1248.86,406.22 L1255.99,403.85 L1263.12,401.47 L1270.25,399.08 L1277.38,396.69 L1284.51,394.30 L1291.64,391.91 L1298.77,389.52 L1305.90,387.12 L1313.03,384.72 L1320.16,382.32 L1327.29,379.93 L1334.42,377.53 L1341.55,375.13 L1348.68,372.73 L1355.81,370.33 L1362.94,367.93 L1370.07,365.54 L1377.20,363.14 L1384.33,360.75 L1391.46,358.36 L1398.59,355.98 L1405.72,353.59 L1412.85,351.22 L1419.98,348.84 L1427.11,346.47 L1434.24,344.10 L1441.37,341.74 L1448.50,339.39" fill="none" stroke="#000" stroke-width="4.7"/>
<rect x="878.3" y="86.3" width="570.1" height="570.3" fill="none" stroke="#000" stroke-width="2.4"/>
</g>
<g id="pc">
<rect x="172.70" y="1431.80" width="112.20" height="76.20" fill="#d55e00"/>
<rect x="297.10" y="978.00" width="112.50" height="530.00" fill="#56b084"/>
<rect x="422.10" y="1203.40" width="112.10" height="304.60" fill="#d55e00"/>
<rect x="546.80" y="1292.00" width="112.50" height="216.00" fill="#56b084"/>
<g opacity="0.82">
<circle cx="219.60" cy="944.00" r="3.3" fill="#fff" stroke="#909090" stroke-width="1.15"/>
<circle cx="233.40" cy="943.40" r="3.3" fill="#fff" stroke="#909090" stroke-width="1.15"/>
<circle cx="228.80" cy="950.00" r="3.3" fill="#fff" stroke="#909090" stroke-width="1.15"/>
</g>
<g opacity="0.82">
<circle cx="221.40" cy="1036.20" r="3.3" fill="#fff" stroke="#909090" stroke-width="1.15"/>
<circle cx="220.00" cy="1044.00" r="3.3" fill="#fff" stroke="#909090" stroke-width="1.15"/>
<circle cx="238.80" cy="1043.20" r="3.3" fill="#fff" stroke="#909090" stroke-width="1.15"/>
</g>
<g opacity="0.82">
<circle cx="220.60" cy="1138.20" r="3.3" fill="#fff" stroke="#909090" stroke-width="1.15"/>
<circle cx="225.40" cy="1135.20" r="3.3" fill="#fff" stroke="#909090" stroke-width="1.15"/>
<circle cx="230.80" cy="1137.00" r="3.3" fill="#fff" stroke="#909090" stroke-width="1.15"/>
<circle cx="234.40" cy="1135.20" r="3.3" fill="#fff" stroke="#909090" stroke-width="1.15"/>
<circle cx="238.20" cy="1129.80" r="3.3" fill="#fff" stroke="#909090" stroke-width="1.15"/>
</g>
<g opacity="0.82">
<circle cx="219.60" cy="1222.60" r="3.3" fill="#fff" stroke="#909090" stroke-width="1.15"/>
<circle cx="226.20" cy="1221.20" r="3.3" fill="#fff" stroke="#909090" stroke-width="1.15"/>
<circle cx="230.80" cy="1221.40" r="3.3" fill="#fff" stroke="#909090" stroke-width="1.15"/>
<circle cx="236.40" cy="1223.60" r="3.3" fill="#fff" stroke="#909090" stroke-width="1.15"/>
<circle cx="240.60" cy="1227.40" r="3.3" fill="#fff" stroke="#909090" stroke-width="1.15"/>
<circle cx="217.80" cy="1230.20" r="3.3" fill="#fff" stroke="#909090" stroke-width="1.15"/>
<circle cx="224.40" cy="1230.60" r="3.3" fill="#fff" stroke="#909090" stroke-width="1.15"/>
<circle cx="235.60" cy="1231.40" r="3.3" fill="#fff" stroke="#909090" stroke-width="1.15"/>
<circle cx="229.00" cy="1226.00" r="3.3" fill="#fff" stroke="#909090" stroke-width="1.15"/>
<circle cx="232.00" cy="1233.00" r="3.3" fill="#fff" stroke="#909090" stroke-width="1.15"/>
</g>
<g opacity="0.82">
<circle cx="227.61" cy="1320.02" r="3.3" fill="#fff" stroke="#909090" stroke-width="1.15"/>
<circle cx="239.41" cy="1318.99" r="3.3" fill="#fff" stroke="#909090" stroke-width="1.15"/>
<circle cx="229.00" cy="1320.33" r="3.3" fill="#fff" stroke="#909090" stroke-width="1.15"/>
<circle cx="220.92" cy="1319.50" r="3.3" fill="#fff" stroke="#909090" stroke-width="1.15"/>
<circle cx="232.05" cy="1322.59" r="3.3" fill="#fff" stroke="#909090" stroke-width="1.15"/>
<circle cx="218.65" cy="1317.20" r="3.3" fill="#fff" stroke="#909090" stroke-width="1.15"/>
<circle cx="218.57" cy="1322.77" r="3.3" fill="#fff" stroke="#909090" stroke-width="1.15"/>
<circle cx="233.64" cy="1314.33" r="3.3" fill="#fff" stroke="#909090" stroke-width="1.15"/>
<circle cx="240.85" cy="1324.48" r="3.3" fill="#fff" stroke="#909090" stroke-width="1.15"/>
<circle cx="232.65" cy="1320.64" r="3.3" fill="#fff" stroke="#909090" stroke-width="1.15"/>
<circle cx="220.24" cy="1314.03" r="3.3" fill="#fff" stroke="#909090" stroke-width="1.15"/>
<circle cx="229.51" cy="1314.52" r="3.3" fill="#fff" stroke="#909090" stroke-width="1.15"/>
<circle cx="221.06" cy="1316.53" r="3.3" fill="#fff" stroke="#909090" stroke-width="1.15"/>
<circle cx="217.05" cy="1318.97" r="3.3" fill="#fff" stroke="#909090" stroke-width="1.15"/>
<circle cx="227.31" cy="1323.13" r="3.3" fill="#fff" stroke="#909090" stroke-width="1.15"/>
<circle cx="229.28" cy="1320.91" r="3.3" fill="#fff" stroke="#909090" stroke-width="1.15"/>
<circle cx="228.79" cy="1321.15" r="3.3" fill="#fff" stroke="#909090" stroke-width="1.15"/>
<circle cx="227.73" cy="1316.93" r="3.3" fill="#fff" stroke="#909090" stroke-width="1.15"/>
<circle cx="241.24" cy="1324.82" r="3.3" fill="#fff" stroke="#909090" stroke-width="1.15"/>
<circle cx="237.31" cy="1321.65" r="3.3" fill="#fff" stroke="#909090" stroke-width="1.15"/>
<circle cx="224.18" cy="1316.39" r="3.3" fill="#fff" stroke="#909090" stroke-width="1.15"/>
<circle cx="223.53" cy="1314.64" r="3.3" fill="#fff" stroke="#909090" stroke-width="1.15"/>
<circle cx="235.46" cy="1318.27" r="3.3" fill="#fff" stroke="#909090" stroke-width="1.15"/>
<circle cx="237.46" cy="1318.12" r="3.3" fill="#fff" stroke="#909090" stroke-width="1.15"/>
</g>
<g opacity="0.82">
<circle cx="240.71" cy="1417.05" r="3.3" fill="#fff" stroke="#909090" stroke-width="1.15"/>
<circle cx="215.81" cy="1410.04" r="3.3" fill="#fff" stroke="#909090" stroke-width="1.15"/>
<circle cx="239.47" cy="1412.90" r="3.3" fill="#fff" stroke="#909090" stroke-width="1.15"/>
<circle cx="241.29" cy="1412.11" r="3.3" fill="#fff" stroke="#909090" stroke-width="1.15"/>
<circle cx="217.70" cy="1414.66" r="3.3" fill="#fff" stroke="#909090" stroke-width="1.15"/>
<circle cx="236.04" cy="1410.70" r="3.3" fill="#fff" stroke="#909090" stroke-width="1.15"/>
<circle cx="218.07" cy="1411.39" r="3.3" fill="#fff" stroke="#909090" stroke-width="1.15"/>
<circle cx="240.87" cy="1416.07" r="3.3" fill="#fff" stroke="#909090" stroke-width="1.15"/>
<circle cx="218.87" cy="1410.44" r="3.3" fill="#fff" stroke="#909090" stroke-width="1.15"/>
<circle cx="218.43" cy="1408.39" r="3.3" fill="#fff" stroke="#909090" stroke-width="1.15"/>
<circle cx="236.52" cy="1409.69" r="3.3" fill="#fff" stroke="#909090" stroke-width="1.15"/>
<circle cx="230.34" cy="1412.66" r="3.3" fill="#fff" stroke="#909090" stroke-width="1.15"/>
<circle cx="220.76" cy="1415.78" r="3.3" fill="#fff" stroke="#909090" stroke-width="1.15"/>
<circle cx="219.21" cy="1414.81" r="3.3" fill="#fff" stroke="#909090" stroke-width="1.15"/>
<circle cx="218.83" cy="1412.36" r="3.3" fill="#fff" stroke="#909090" stroke-width="1.15"/>
<circle cx="221.33" cy="1410.70" r="3.3" fill="#fff" stroke="#909090" stroke-width="1.15"/>
<circle cx="241.04" cy="1416.57" r="3.3" fill="#fff" stroke="#909090" stroke-width="1.15"/>
<circle cx="223.71" cy="1417.47" r="3.3" fill="#fff" stroke="#909090" stroke-width="1.15"/>
<circle cx="221.28" cy="1412.07" r="3.3" fill="#fff" stroke="#909090" stroke-width="1.15"/>
<circle cx="238.01" cy="1414.79" r="3.3" fill="#fff" stroke="#909090" stroke-width="1.15"/>
<circle cx="218.41" cy="1418.62" r="3.3" fill="#fff" stroke="#909090" stroke-width="1.15"/>
<circle cx="221.34" cy="1410.57" r="3.3" fill="#fff" stroke="#909090" stroke-width="1.15"/>
<circle cx="235.89" cy="1411.35" r="3.3" fill="#fff" stroke="#909090" stroke-width="1.15"/>
<circle cx="223.50" cy="1408.54" r="3.3" fill="#fff" stroke="#909090" stroke-width="1.15"/>
<circle cx="218.14" cy="1414.14" r="3.3" fill="#fff" stroke="#909090" stroke-width="1.15"/>
<circle cx="222.12" cy="1414.35" r="3.3" fill="#fff" stroke="#909090" stroke-width="1.15"/>
<circle cx="225.46" cy="1412.72" r="3.3" fill="#fff" stroke="#909090" stroke-width="1.15"/>
<circle cx="240.74" cy="1413.05" r="3.3" fill="#fff" stroke="#909090" stroke-width="1.15"/>
<circle cx="230.74" cy="1417.27" r="3.3" fill="#fff" stroke="#909090" stroke-width="1.15"/>
<circle cx="220.55" cy="1409.43" r="3.3" fill="#fff" stroke="#909090" stroke-width="1.15"/>
<circle cx="239.42" cy="1416.73" r="3.3" fill="#fff" stroke="#909090" stroke-width="1.15"/>
<circle cx="222.29" cy="1409.82" r="3.3" fill="#fff" stroke="#909090" stroke-width="1.15"/>
</g>
<g opacity="0.82">
<circle cx="235.03" cy="1508.44" r="3.3" fill="#fff" stroke="#909090" stroke-width="1.15"/>
<circle cx="220.91" cy="1508.55" r="3.3" fill="#fff" stroke="#909090" stroke-width="1.15"/>
<circle cx="238.74" cy="1504.74" r="3.3" fill="#fff" stroke="#909090" stroke-width="1.15"/>
<circle cx="226.76" cy="1499.24" r="3.3" fill="#fff" stroke="#909090" stroke-width="1.15"/>
<circle cx="216.81" cy="1508.69" r="3.3" fill="#fff" stroke="#909090" stroke-width="1.15"/>
<circle cx="222.00" cy="1505.85" r="3.3" fill="#fff" stroke="#909090" stroke-width="1.15"/>
<circle cx="222.48" cy="1507.16" r="3.3" fill="#fff" stroke="#909090" stroke-width="1.15"/>
<circle cx="231.31" cy="1501.33" r="3.3" fill="#fff" stroke="#909090" stroke-width="1.15"/>
<circle cx="220.36" cy="1506.02" r="3.3" fill="#fff" stroke="#909090" stroke-width="1.15"/>
<circle cx="217.59" cy="1500.61" r="3.3" fill="#fff" stroke="#909090" stroke-width="1.15"/>
<circle cx="230.34" cy="1507.48" r="3.3" fill="#fff" stroke="#909090" stroke-width="1.15"/>
<circle cx="231.77" cy="1501.18" r="3.3" fill="#fff" stroke="#909090" stroke-width="1.15"/>
<circle cx="239.65" cy="1500.34" r="3.3" fill="#fff" stroke="#909090" stroke-width="1.15"/>
<circle cx="216.23" cy="1501.06" r="3.3" fill="#fff" stroke="#909090" stroke-width="1.15"/>
<circle cx="227.39" cy="1498.77" r="3.3" fill="#fff" stroke="#909090" stroke-width="1.15"/>
<circle cx="220.38" cy="1502.16" r="3.3" fill="#fff" stroke="#909090" stroke-width="1.15"/>
<circle cx="230.68" cy="1499.55" r="3.3" fill="#fff" stroke="#909090" stroke-width="1.15"/>
<circle cx="225.22" cy="1507.90" r="3.3" fill="#fff" stroke="#909090" stroke-width="1.15"/>
<circle cx="241.29" cy="1505.33" r="3.3" fill="#fff" stroke="#909090" stroke-width="1.15"/>
<circle cx="233.77" cy="1504.53" r="3.3" fill="#fff" stroke="#909090" stroke-width="1.15"/>
<circle cx="219.45" cy="1498.49" r="3.3" fill="#fff" stroke="#909090" stroke-width="1.15"/>
<circle cx="216.27" cy="1508.11" r="3.3" fill="#fff" stroke="#909090" stroke-width="1.15"/>
<circle cx="234.03" cy="1508.69" r="3.3" fill="#fff" stroke="#909090" stroke-width="1.15"/>
<circle cx="216.35" cy="1505.10" r="3.3" fill="#fff" stroke="#909090" stroke-width="1.15"/>
<circle cx="228.34" cy="1506.14" r="3.3" fill="#fff" stroke="#909090" stroke-width="1.15"/>
<circle cx="224.09" cy="1509.09" r="3.3" fill="#fff" stroke="#909090" stroke-width="1.15"/>
<circle cx="217.76" cy="1504.11" r="3.3" fill="#fff" stroke="#909090" stroke-width="1.15"/>
<circle cx="234.96" cy="1508.00" r="3.3" fill="#fff" stroke="#909090" stroke-width="1.15"/>
<circle cx="234.96" cy="1505.84" r="3.3" fill="#fff" stroke="#909090" stroke-width="1.15"/>
<circle cx="236.42" cy="1508.17" r="3.3" fill="#fff" stroke="#909090" stroke-width="1.15"/>
<circle cx="224.95" cy="1505.64" r="3.3" fill="#fff" stroke="#909090" stroke-width="1.15"/>
<circle cx="239.22" cy="1507.68" r="3.3" fill="#fff" stroke="#909090" stroke-width="1.15"/>
</g>
<g opacity="0.82">
<circle cx="351.35" cy="950.20" r="3.3" fill="#fff" stroke="#909090" stroke-width="1.15"/>
<circle cx="362.95" cy="947.80" r="3.3" fill="#fff" stroke="#909090" stroke-width="1.15"/>
<circle cx="356.75" cy="945.71" r="3.3" fill="#fff" stroke="#909090" stroke-width="1.15"/>
<circle cx="355.65" cy="948.20" r="3.3" fill="#fff" stroke="#909090" stroke-width="1.15"/>
<circle cx="342.59" cy="948.53" r="3.3" fill="#fff" stroke="#909090" stroke-width="1.15"/>
<circle cx="366.33" cy="951.18" r="3.3" fill="#fff" stroke="#909090" stroke-width="1.15"/>
<circle cx="359.43" cy="945.77" r="3.3" fill="#fff" stroke="#909090" stroke-width="1.15"/>
<circle cx="359.61" cy="947.89" r="3.3" fill="#fff" stroke="#909090" stroke-width="1.15"/>
<circle cx="351.95" cy="950.72" r="3.3" fill="#fff" stroke="#909090" stroke-width="1.15"/>
<circle cx="342.68" cy="949.75" r="3.3" fill="#fff" stroke="#909090" stroke-width="1.15"/>
<circle cx="341.27" cy="948.11" r="3.3" fill="#fff" stroke="#909090" stroke-width="1.15"/>
<circle cx="353.00" cy="944.03" r="3.3" fill="#fff" stroke="#909090" stroke-width="1.15"/>
<circle cx="358.66" cy="946.97" r="3.3" fill="#fff" stroke="#909090" stroke-width="1.15"/>
<circle cx="356.48" cy="951.63" r="3.3" fill="#fff" stroke="#909090" stroke-width="1.15"/>
<circle cx="347.15" cy="941.62" r="3.3" fill="#fff" stroke="#909090" stroke-width="1.15"/>
<circle cx="348.33" cy="948.96" r="3.3" fill="#fff" stroke="#909090" stroke-width="1.15"/>
<circle cx="345.77" cy="943.37" r="3.3" fill="#fff" stroke="#909090" stroke-width="1.15"/>
<circle cx="364.05" cy="948.76" r="3.3" fill="#fff" stroke="#909090" stroke-width="1.15"/>
<circle cx="351.99" cy="951.31" r="3.3" fill="#fff" stroke="#909090" stroke-width="1.15"/>
<circle cx="349.00" cy="948.82" r="3.3" fill="#fff" stroke="#909090" stroke-width="1.15"/>
<circle cx="345.66" cy="946.24" r="3.3" fill="#fff" stroke="#909090" stroke-width="1.15"/>
<circle cx="361.46" cy="951.56" r="3.3" fill="#fff" stroke="#909090" stroke-width="1.15"/>
<circle cx="363.39" cy="945.73" r="3.3" fill="#fff" stroke="#909090" stroke-width="1.15"/>
<circle cx="355.66" cy="944.98" r="3.3" fill="#fff" stroke="#909090" stroke-width="1.15"/>
<circle cx="344.04" cy="946.96" r="3.3" fill="#fff" stroke="#909090" stroke-width="1.15"/>
<circle cx="362.26" cy="950.84" r="3.3" fill="#fff" stroke="#909090" stroke-width="1.15"/>
<circle cx="358.99" cy="951.95" r="3.3" fill="#fff" stroke="#909090" stroke-width="1.15"/>
<circle cx="347.70" cy="943.36" r="3.3" fill="#fff" stroke="#909090" stroke-width="1.15"/>
<circle cx="352.22" cy="944.53" r="3.3" fill="#fff" stroke="#909090" stroke-width="1.15"/>
<circle cx="346.07" cy="946.05" r="3.3" fill="#fff" stroke="#909090" stroke-width="1.15"/>
<circle cx="356.77" cy="946.93" r="3.3" fill="#fff" stroke="#909090" stroke-width="1.15"/>
<circle cx="348.70" cy="950.73" r="3.3" fill="#fff" stroke="#909090" stroke-width="1.15"/>
<circle cx="366.03" cy="946.48" r="3.3" fill="#fff" stroke="#909090" stroke-width="1.15"/>
<circle cx="342.44" cy="941.85" r="3.3" fill="#fff" stroke="#909090" stroke-width="1.15"/>
<circle cx="363.19" cy="941.96" r="3.3" fill="#fff" stroke="#909090" stroke-width="1.15"/>
<circle cx="358.92" cy="947.78" r="3.3" fill="#fff" stroke="#909090" stroke-width="1.15"/>
<circle cx="348.53" cy="950.21" r="3.3" fill="#fff" stroke="#909090" stroke-width="1.15"/>
<circle cx="341.00" cy="942.99" r="3.3" fill="#fff" stroke="#909090" stroke-width="1.15"/>
<circle cx="352.33" cy="941.77" r="3.3" fill="#fff" stroke="#909090" stroke-width="1.15"/>
<circle cx="362.07" cy="944.11" r="3.3" fill="#fff" stroke="#909090" stroke-width="1.15"/>
<circle cx="344.16" cy="942.02" r="3.3" fill="#fff" stroke="#909090" stroke-width="1.15"/>
<circle cx="356.86" cy="946.41" r="3.3" fill="#fff" stroke="#909090" stroke-width="1.15"/>
<circle cx="356.88" cy="948.71" r="3.3" fill="#fff" stroke="#909090" stroke-width="1.15"/>
<circle cx="361.49" cy="952.04" r="3.3" fill="#fff" stroke="#909090" stroke-width="1.15"/>
</g>
<g opacity="0.82">
<circle cx="358.30" cy="1037.06" r="3.3" fill="#fff" stroke="#909090" stroke-width="1.15"/>
<circle cx="352.85" cy="1036.83" r="3.3" fill="#fff" stroke="#909090" stroke-width="1.15"/>
<circle cx="340.78" cy="1040.06" r="3.3" fill="#fff" stroke="#909090" stroke-width="1.15"/>
<circle cx="359.07" cy="1036.84" r="3.3" fill="#fff" stroke="#909090" stroke-width="1.15"/>
<circle cx="347.58" cy="1038.67" r="3.3" fill="#fff" stroke="#909090" stroke-width="1.15"/>
<circle cx="358.63" cy="1040.59" r="3.3" fill="#fff" stroke="#909090" stroke-width="1.15"/>
<circle cx="356.48" cy="1043.18" r="3.3" fill="#fff" stroke="#909090" stroke-width="1.15"/>
<circle cx="350.73" cy="1043.58" r="3.3" fill="#fff" stroke="#909090" stroke-width="1.15"/>
<circle cx="364.06" cy="1035.83" r="3.3" fill="#fff" stroke="#909090" stroke-width="1.15"/>
<circle cx="364.75" cy="1042.81" r="3.3" fill="#fff" stroke="#909090" stroke-width="1.15"/>
<circle cx="343.88" cy="1039.86" r="3.3" fill="#fff" stroke="#909090" stroke-width="1.15"/>
<circle cx="356.76" cy="1044.88" r="3.3" fill="#fff" stroke="#909090" stroke-width="1.15"/>
<circle cx="350.30" cy="1041.12" r="3.3" fill="#fff" stroke="#909090" stroke-width="1.15"/>
<circle cx="363.36" cy="1043.63" r="3.3" fill="#fff" stroke="#909090" stroke-width="1.15"/>
<circle cx="365.05" cy="1039.97" r="3.3" fill="#fff" stroke="#909090" stroke-width="1.15"/>
<circle cx="357.43" cy="1037.12" r="3.3" fill="#fff" stroke="#909090" stroke-width="1.15"/>
<circle cx="359.27" cy="1043.87" r="3.3" fill="#fff" stroke="#909090" stroke-width="1.15"/>
<circle cx="357.18" cy="1042.76" r="3.3" fill="#fff" stroke="#909090" stroke-width="1.15"/>
<circle cx="346.05" cy="1044.77" r="3.3" fill="#fff" stroke="#909090" stroke-width="1.15"/>
<circle cx="365.99" cy="1045.62" r="3.3" fill="#fff" stroke="#909090" stroke-width="1.15"/>
<circle cx="354.46" cy="1043.57" r="3.3" fill="#fff" stroke="#909090" stroke-width="1.15"/>
<circle cx="348.83" cy="1044.88" r="3.3" fill="#fff" stroke="#909090" stroke-width="1.15"/>
<circle cx="362.75" cy="1038.70" r="3.3" fill="#fff" stroke="#909090" stroke-width="1.15"/>
<circle cx="342.65" cy="1039.72" r="3.3" fill="#fff" stroke="#909090" stroke-width="1.15"/>
<circle cx="354.81" cy="1043.32" r="3.3" fill="#fff" stroke="#909090" stroke-width="1.15"/>
<circle cx="353.17" cy="1035.18" r="3.3" fill="#fff" stroke="#909090" stroke-width="1.15"/>
<circle cx="361.54" cy="1035.57" r="3.3" fill="#fff" stroke="#909090" stroke-width="1.15"/>
<circle cx="361.30" cy="1036.77" r="3.3" fill="#fff" stroke="#909090" stroke-width="1.15"/>
</g>
<g opacity="0.82">
<circle cx="345.00" cy="1134.80" r="3.3" fill="#fff" stroke="#909090" stroke-width="1.15"/>
<circle cx="349.20" cy="1129.20" r="3.3" fill="#fff" stroke="#909090" stroke-width="1.15"/>
<circle cx="352.80" cy="1132.20" r="3.3" fill="#fff" stroke="#909090" stroke-width="1.15"/>
<circle cx="362.20" cy="1129.20" r="3.3" fill="#fff" stroke="#909090" stroke-width="1.15"/>
<circle cx="363.60" cy="1138.80" r="3.3" fill="#fff" stroke="#909090" stroke-width="1.15"/>
<circle cx="362.50" cy="1134.00" r="3.3" fill="#fff" stroke="#909090" stroke-width="1.15"/>
</g>
<g opacity="0.82">
<circle cx="341.40" cy="1224.20" r="3.3" fill="#fff" stroke="#909090" stroke-width="1.15"/>
<circle cx="363.00" cy="1223.60" r="3.3" fill="#fff" stroke="#909090" stroke-width="1.15"/>
<circle cx="359.60" cy="1230.80" r="3.3" fill="#fff" stroke="#909090" stroke-width="1.15"/>
</g>
<g opacity="0.82">
<circle cx="357.20" cy="1314.40" r="3.3" fill="#fff" stroke="#909090" stroke-width="1.15"/>
<circle cx="365.60" cy="1324.60" r="3.3" fill="#fff" stroke="#909090" stroke-width="1.15"/>
</g>
<g opacity="0.82">
<circle cx="474.21" cy="950.17" r="3.3" fill="#fff" stroke="#909090" stroke-width="1.15"/>
<circle cx="469.15" cy="943.14" r="3.3" fill="#fff" stroke="#909090" stroke-width="1.15"/>
<circle cx="478.93" cy="949.46" r="3.3" fill="#fff" stroke="#909090" stroke-width="1.15"/>
<circle cx="487.34" cy="949.08" r="3.3" fill="#fff" stroke="#909090" stroke-width="1.15"/>
<circle cx="490.09" cy="946.92" r="3.3" fill="#fff" stroke="#909090" stroke-width="1.15"/>
<circle cx="490.18" cy="942.45" r="3.3" fill="#fff" stroke="#909090" stroke-width="1.15"/>
<circle cx="471.26" cy="947.29" r="3.3" fill="#fff" stroke="#909090" stroke-width="1.15"/>
<circle cx="473.04" cy="949.52" r="3.3" fill="#fff" stroke="#909090" stroke-width="1.15"/>
<circle cx="482.11" cy="947.25" r="3.3" fill="#fff" stroke="#909090" stroke-width="1.15"/>
<circle cx="487.43" cy="947.66" r="3.3" fill="#fff" stroke="#909090" stroke-width="1.15"/>
<circle cx="473.60" cy="945.69" r="3.3" fill="#fff" stroke="#909090" stroke-width="1.15"/>
<circle cx="487.48" cy="951.41" r="3.3" fill="#fff" stroke="#909090" stroke-width="1.15"/>
<circle cx="470.91" cy="950.86" r="3.3" fill="#fff" stroke="#909090" stroke-width="1.15"/>
<circle cx="490.68" cy="947.27" r="3.3" fill="#fff" stroke="#909090" stroke-width="1.15"/>
<circle cx="480.40" cy="943.71" r="3.3" fill="#fff" stroke="#909090" stroke-width="1.15"/>
<circle cx="479.43" cy="947.03" r="3.3" fill="#fff" stroke="#909090" stroke-width="1.15"/>
<circle cx="481.24" cy="941.81" r="3.3" fill="#fff" stroke="#909090" stroke-width="1.15"/>
<circle cx="490.70" cy="947.18" r="3.3" fill="#fff" stroke="#909090" stroke-width="1.15"/>
<circle cx="475.92" cy="950.31" r="3.3" fill="#fff" stroke="#909090" stroke-width="1.15"/>
<circle cx="480.13" cy="946.90" r="3.3" fill="#fff" stroke="#909090" stroke-width="1.15"/>
<circle cx="483.47" cy="942.22" r="3.3" fill="#fff" stroke="#909090" stroke-width="1.15"/>
<circle cx="479.51" cy="946.05" r="3.3" fill="#fff" stroke="#909090" stroke-width="1.15"/>
<circle cx="490.38" cy="951.66" r="3.3" fill="#fff" stroke="#909090" stroke-width="1.15"/>
<circle cx="472.50" cy="946.70" r="3.3" fill="#fff" stroke="#909090" stroke-width="1.15"/>
<circle cx="468.80" cy="946.27" r="3.3" fill="#fff" stroke="#909090" stroke-width="1.15"/>
<circle cx="486.71" cy="951.41" r="3.3" fill="#fff" stroke="#909090" stroke-width="1.15"/>
<circle cx="477.89" cy="944.99" r="3.3" fill="#fff" stroke="#909090" stroke-width="1.15"/>
<circle cx="470.48" cy="948.30" r="3.3" fill="#fff" stroke="#909090" stroke-width="1.15"/>
<circle cx="489.56" cy="942.92" r="3.3" fill="#fff" stroke="#909090" stroke-width="1.15"/>
<circle cx="485.76" cy="941.75" r="3.3" fill="#fff" stroke="#909090" stroke-width="1.15"/>
</g>
<g opacity="0.82">
<circle cx="471.85" cy="1037.37" r="3.3" fill="#fff" stroke="#909090" stroke-width="1.15"/>
<circle cx="484.18" cy="1038.41" r="3.3" fill="#fff" stroke="#909090" stroke-width="1.15"/>
<circle cx="475.88" cy="1041.68" r="3.3" fill="#fff" stroke="#909090" stroke-width="1.15"/>
<circle cx="469.62" cy="1042.91" r="3.3" fill="#fff" stroke="#909090" stroke-width="1.15"/>
<circle cx="470.07" cy="1040.48" r="3.3" fill="#fff" stroke="#909090" stroke-width="1.15"/>
<circle cx="473.26" cy="1037.04" r="3.3" fill="#fff" stroke="#909090" stroke-width="1.15"/>
<circle cx="480.26" cy="1039.67" r="3.3" fill="#fff" stroke="#909090" stroke-width="1.15"/>
<circle cx="476.39" cy="1039.41" r="3.3" fill="#fff" stroke="#909090" stroke-width="1.15"/>
<circle cx="480.23" cy="1036.62" r="3.3" fill="#fff" stroke="#909090" stroke-width="1.15"/>
<circle cx="472.11" cy="1041.81" r="3.3" fill="#fff" stroke="#909090" stroke-width="1.15"/>
<circle cx="482.96" cy="1040.69" r="3.3" fill="#fff" stroke="#909090" stroke-width="1.15"/>
<circle cx="488.28" cy="1041.60" r="3.3" fill="#fff" stroke="#909090" stroke-width="1.15"/>
<circle cx="488.42" cy="1037.43" r="3.3" fill="#fff" stroke="#909090" stroke-width="1.15"/>
<circle cx="485.52" cy="1043.78" r="3.3" fill="#fff" stroke="#909090" stroke-width="1.15"/>
<circle cx="489.57" cy="1038.34" r="3.3" fill="#fff" stroke="#909090" stroke-width="1.15"/>
<circle cx="474.87" cy="1045.02" r="3.3" fill="#fff" stroke="#909090" stroke-width="1.15"/>
<circle cx="472.45" cy="1045.85" r="3.3" fill="#fff" stroke="#909090" stroke-width="1.15"/>
<circle cx="489.19" cy="1036.34" r="3.3" fill="#fff" stroke="#909090" stroke-width="1.15"/>
<circle cx="472.98" cy="1042.86" r="3.3" fill="#fff" stroke="#909090" stroke-width="1.15"/>
<circle cx="473.49" cy="1035.93" r="3.3" fill="#fff" stroke="#909090" stroke-width="1.15"/>
<circle cx="487.80" cy="1039.50" r="3.3" fill="#fff" stroke="#909090" stroke-width="1.15"/>
<circle cx="486.75" cy="1036.25" r="3.3" fill="#fff" stroke="#909090" stroke-width="1.15"/>
<circle cx="477.07" cy="1042.40" r="3.3" fill="#fff" stroke="#909090" stroke-width="1.15"/>
<circle cx="467.44" cy="1037.08" r="3.3" fill="#fff" stroke="#909090" stroke-width="1.15"/>
<circle cx="484.06" cy="1044.89" r="3.3" fill="#fff" stroke="#909090" stroke-width="1.15"/>
<circle cx="491.21" cy="1036.14" r="3.3" fill="#fff" stroke="#909090" stroke-width="1.15"/>
</g>
<g opacity="0.82">
<circle cx="478.65" cy="1136.37" r="3.3" fill="#fff" stroke="#909090" stroke-width="1.15"/>
<circle cx="478.57" cy="1135.58" r="3.3" fill="#fff" stroke="#909090" stroke-width="1.15"/>
<circle cx="470.41" cy="1128.81" r="3.3" fill="#fff" stroke="#909090" stroke-width="1.15"/>
<circle cx="468.26" cy="1128.45" r="3.3" fill="#fff" stroke="#909090" stroke-width="1.15"/>
<circle cx="479.84" cy="1133.70" r="3.3" fill="#fff" stroke="#909090" stroke-width="1.15"/>
<circle cx="480.29" cy="1129.65" r="3.3" fill="#fff" stroke="#909090" stroke-width="1.15"/>
<circle cx="470.30" cy="1130.28" r="3.3" fill="#fff" stroke="#909090" stroke-width="1.15"/>
<circle cx="487.35" cy="1138.93" r="3.3" fill="#fff" stroke="#909090" stroke-width="1.15"/>
<circle cx="489.60" cy="1129.08" r="3.3" fill="#fff" stroke="#909090" stroke-width="1.15"/>
<circle cx="467.11" cy="1138.50" r="3.3" fill="#fff" stroke="#909090" stroke-width="1.15"/>
<circle cx="477.51" cy="1136.45" r="3.3" fill="#fff" stroke="#909090" stroke-width="1.15"/>
<circle cx="474.00" cy="1133.17" r="3.3" fill="#fff" stroke="#909090" stroke-width="1.15"/>
<circle cx="478.90" cy="1132.76" r="3.3" fill="#fff" stroke="#909090" stroke-width="1.15"/>
<circle cx="481.12" cy="1128.18" r="3.3" fill="#fff" stroke="#909090" stroke-width="1.15"/>
<circle cx="483.73" cy="1137.32" r="3.3" fill="#fff" stroke="#909090" stroke-width="1.15"/>
<circle cx="470.21" cy="1133.03" r="3.3" fill="#fff" stroke="#909090" stroke-width="1.15"/>
<circle cx="484.72" cy="1132.49" r="3.3" fill="#fff" stroke="#909090" stroke-width="1.15"/>
<circle cx="470.57" cy="1129.85" r="3.3" fill="#fff" stroke="#909090" stroke-width="1.15"/>
<circle cx="478.83" cy="1128.20" r="3.3" fill="#fff" stroke="#909090" stroke-width="1.15"/>
<circle cx="488.72" cy="1136.85" r="3.3" fill="#fff" stroke="#909090" stroke-width="1.15"/>
<circle cx="483.82" cy="1137.50" r="3.3" fill="#fff" stroke="#909090" stroke-width="1.15"/>
<circle cx="481.86" cy="1132.48" r="3.3" fill="#fff" stroke="#909090" stroke-width="1.15"/>
<circle cx="481.09" cy="1133.58" r="3.3" fill="#fff" stroke="#909090" stroke-width="1.15"/>
<circle cx="491.05" cy="1136.89" r="3.3" fill="#fff" stroke="#909090" stroke-width="1.15"/>
<circle cx="472.21" cy="1138.06" r="3.3" fill="#fff" stroke="#909090" stroke-width="1.15"/>
<circle cx="484.86" cy="1136.59" r="3.3" fill="#fff" stroke="#909090" stroke-width="1.15"/>
<circle cx="486.68" cy="1132.50" r="3.3" fill="#fff" stroke="#909090" stroke-width="1.15"/>
<circle cx="488.81" cy="1137.71" r="3.3" fill="#fff" stroke="#909090" stroke-width="1.15"/>
<circle cx="483.56" cy="1136.47" r="3.3" fill="#fff" stroke="#909090" stroke-width="1.15"/>
<circle cx="485.40" cy="1132.50" r="3.3" fill="#fff" stroke="#909090" stroke-width="1.15"/>
</g>
<g opacity="0.82">
<circle cx="484.29" cy="1221.78" r="3.3" fill="#fff" stroke="#909090" stroke-width="1.15"/>
<circle cx="474.38" cy="1226.16" r="3.3" fill="#fff" stroke="#909090" stroke-width="1.15"/>
<circle cx="465.78" cy="1224.91" r="3.3" fill="#fff" stroke="#909090" stroke-width="1.15"/>
<circle cx="482.11" cy="1227.86" r="3.3" fill="#fff" stroke="#909090" stroke-width="1.15"/>
<circle cx="471.53" cy="1231.39" r="3.3" fill="#fff" stroke="#909090" stroke-width="1.15"/>
<circle cx="482.82" cy="1224.72" r="3.3" fill="#fff" stroke="#909090" stroke-width="1.15"/>
<circle cx="482.65" cy="1227.27" r="3.3" fill="#fff" stroke="#909090" stroke-width="1.15"/>
<circle cx="479.36" cy="1225.29" r="3.3" fill="#fff" stroke="#909090" stroke-width="1.15"/>
<circle cx="491.50" cy="1228.06" r="3.3" fill="#fff" stroke="#909090" stroke-width="1.15"/>
<circle cx="483.73" cy="1229.38" r="3.3" fill="#fff" stroke="#909090" stroke-width="1.15"/>
<circle cx="490.98" cy="1221.25" r="3.3" fill="#fff" stroke="#909090" stroke-width="1.15"/>
<circle cx="481.50" cy="1229.13" r="3.3" fill="#fff" stroke="#909090" stroke-width="1.15"/>
<circle cx="472.17" cy="1225.42" r="3.3" fill="#fff" stroke="#909090" stroke-width="1.15"/>
<circle cx="466.81" cy="1223.15" r="3.3" fill="#fff" stroke="#909090" stroke-width="1.15"/>
<circle cx="475.27" cy="1222.08" r="3.3" fill="#fff" stroke="#909090" stroke-width="1.15"/>
<circle cx="472.02" cy="1230.96" r="3.3" fill="#fff" stroke="#909090" stroke-width="1.15"/>
<circle cx="479.80" cy="1226.59" r="3.3" fill="#fff" stroke="#909090" stroke-width="1.15"/>
<circle cx="490.65" cy="1227.25" r="3.3" fill="#fff" stroke="#909090" stroke-width="1.15"/>
<circle cx="491.37" cy="1228.02" r="3.3" fill="#fff" stroke="#909090" stroke-width="1.15"/>
<circle cx="486.55" cy="1221.84" r="3.3" fill="#fff" stroke="#909090" stroke-width="1.15"/>
<circle cx="481.04" cy="1229.35" r="3.3" fill="#fff" stroke="#909090" stroke-width="1.15"/>
<circle cx="466.67" cy="1231.23" r="3.3" fill="#fff" stroke="#909090" stroke-width="1.15"/>
<circle cx="469.66" cy="1226.19" r="3.3" fill="#fff" stroke="#909090" stroke-width="1.15"/>
<circle cx="469.90" cy="1226.45" r="3.3" fill="#fff" stroke="#909090" stroke-width="1.15"/>
<circle cx="481.39" cy="1221.64" r="3.3" fill="#fff" stroke="#909090" stroke-width="1.15"/>
<circle cx="490.08" cy="1225.63" r="3.3" fill="#fff" stroke="#909090" stroke-width="1.15"/>
<circle cx="479.20" cy="1227.58" r="3.3" fill="#fff" stroke="#909090" stroke-width="1.15"/>
<circle cx="475.00" cy="1224.14" r="3.3" fill="#fff" stroke="#909090" stroke-width="1.15"/>
</g>
<g opacity="0.82">
<circle cx="482.53" cy="1320.03" r="3.3" fill="#fff" stroke="#909090" stroke-width="1.15"/>
<circle cx="472.87" cy="1321.75" r="3.3" fill="#fff" stroke="#909090" stroke-width="1.15"/>
<circle cx="473.20" cy="1314.02" r="3.3" fill="#fff" stroke="#909090" stroke-width="1.15"/>
<circle cx="471.87" cy="1314.34" r="3.3" fill="#fff" stroke="#909090" stroke-width="1.15"/>
<circle cx="469.57" cy="1322.17" r="3.3" fill="#fff" stroke="#909090" stroke-width="1.15"/>
<circle cx="475.64" cy="1323.74" r="3.3" fill="#fff" stroke="#909090" stroke-width="1.15"/>
<circle cx="484.96" cy="1314.42" r="3.3" fill="#fff" stroke="#909090" stroke-width="1.15"/>
<circle cx="491.21" cy="1324.26" r="3.3" fill="#fff" stroke="#909090" stroke-width="1.15"/>
<circle cx="467.41" cy="1323.83" r="3.3" fill="#fff" stroke="#909090" stroke-width="1.15"/>
<circle cx="476.67" cy="1319.12" r="3.3" fill="#fff" stroke="#909090" stroke-width="1.15"/>
<circle cx="490.80" cy="1316.55" r="3.3" fill="#fff" stroke="#909090" stroke-width="1.15"/>
<circle cx="479.11" cy="1324.18" r="3.3" fill="#fff" stroke="#909090" stroke-width="1.15"/>
<circle cx="484.29" cy="1319.02" r="3.3" fill="#fff" stroke="#909090" stroke-width="1.15"/>
<circle cx="490.95" cy="1322.85" r="3.3" fill="#fff" stroke="#909090" stroke-width="1.15"/>
<circle cx="481.19" cy="1315.13" r="3.3" fill="#fff" stroke="#909090" stroke-width="1.15"/>
<circle cx="481.73" cy="1318.88" r="3.3" fill="#fff" stroke="#909090" stroke-width="1.15"/>
<circle cx="470.80" cy="1314.44" r="3.3" fill="#fff" stroke="#909090" stroke-width="1.15"/>
<circle cx="479.23" cy="1315.23" r="3.3" fill="#fff" stroke="#909090" stroke-width="1.15"/>
<circle cx="477.01" cy="1321.21" r="3.3" fill="#fff" stroke="#909090" stroke-width="1.15"/>
<circle cx="477.34" cy="1316.75" r="3.3" fill="#fff" stroke="#909090" stroke-width="1.15"/>
<circle cx="480.64" cy="1318.48" r="3.3" fill="#fff" stroke="#909090" stroke-width="1.15"/>
<circle cx="485.73" cy="1319.71" r="3.3" fill="#fff" stroke="#909090" stroke-width="1.15"/>
<circle cx="491.44" cy="1324.35" r="3.3" fill="#fff" stroke="#909090" stroke-width="1.15"/>
<circle cx="484.59" cy="1316.49" r="3.3" fill="#fff" stroke="#909090" stroke-width="1.15"/>
<circle cx="468.46" cy="1323.69" r="3.3" fill="#fff" stroke="#909090" stroke-width="1.15"/>
<circle cx="485.89" cy="1320.74" r="3.3" fill="#fff" stroke="#909090" stroke-width="1.15"/>
</g>
<g opacity="0.82">
<circle cx="474.98" cy="1410.72" r="3.3" fill="#fff" stroke="#909090" stroke-width="1.15"/>
<circle cx="483.13" cy="1413.95" r="3.3" fill="#fff" stroke="#909090" stroke-width="1.15"/>
<circle cx="480.79" cy="1414.70" r="3.3" fill="#fff" stroke="#909090" stroke-width="1.15"/>
<circle cx="484.83" cy="1409.82" r="3.3" fill="#fff" stroke="#909090" stroke-width="1.15"/>
<circle cx="472.22" cy="1418.51" r="3.3" fill="#fff" stroke="#909090" stroke-width="1.15"/>
<circle cx="488.89" cy="1417.40" r="3.3" fill="#fff" stroke="#909090" stroke-width="1.15"/>
<circle cx="466.99" cy="1408.40" r="3.3" fill="#fff" stroke="#909090" stroke-width="1.15"/>
<circle cx="472.77" cy="1412.41" r="3.3" fill="#fff" stroke="#909090" stroke-width="1.15"/>
<circle cx="481.58" cy="1408.86" r="3.3" fill="#fff" stroke="#909090" stroke-width="1.15"/>
<circle cx="479.54" cy="1408.53" r="3.3" fill="#fff" stroke="#909090" stroke-width="1.15"/>
<circle cx="468.16" cy="1415.17" r="3.3" fill="#fff" stroke="#909090" stroke-width="1.15"/>
<circle cx="479.77" cy="1414.68" r="3.3" fill="#fff" stroke="#909090" stroke-width="1.15"/>
<circle cx="475.33" cy="1413.00" r="3.3" fill="#fff" stroke="#909090" stroke-width="1.15"/>
<circle cx="471.27" cy="1411.51" r="3.3" fill="#fff" stroke="#909090" stroke-width="1.15"/>
<circle cx="484.62" cy="1416.96" r="3.3" fill="#fff" stroke="#909090" stroke-width="1.15"/>
<circle cx="467.86" cy="1409.05" r="3.3" fill="#fff" stroke="#909090" stroke-width="1.15"/>
<circle cx="486.23" cy="1414.59" r="3.3" fill="#fff" stroke="#909090" stroke-width="1.15"/>
<circle cx="485.22" cy="1410.08" r="3.3" fill="#fff" stroke="#909090" stroke-width="1.15"/>
<circle cx="476.61" cy="1410.57" r="3.3" fill="#fff" stroke="#909090" stroke-width="1.15"/>
<circle cx="486.25" cy="1411.79" r="3.3" fill="#fff" stroke="#909090" stroke-width="1.15"/>
<circle cx="482.34" cy="1418.61" r="3.3" fill="#fff" stroke="#909090" stroke-width="1.15"/>
<circle cx="474.13" cy="1413.77" r="3.3" fill="#fff" stroke="#909090" stroke-width="1.15"/>
</g>
<g opacity="0.82">
<circle cx="484.65" cy="1508.23" r="3.3" fill="#fff" stroke="#909090" stroke-width="1.15"/>
<circle cx="476.69" cy="1502.16" r="3.3" fill="#fff" stroke="#909090" stroke-width="1.15"/>
<circle cx="468.43" cy="1507.73" r="3.3" fill="#fff" stroke="#909090" stroke-width="1.15"/>
<circle cx="467.96" cy="1499.01" r="3.3" fill="#fff" stroke="#909090" stroke-width="1.15"/>
<circle cx="480.11" cy="1503.43" r="3.3" fill="#fff" stroke="#909090" stroke-width="1.15"/>
<circle cx="483.13" cy="1501.39" r="3.3" fill="#fff" stroke="#909090" stroke-width="1.15"/>
<circle cx="485.39" cy="1498.94" r="3.3" fill="#fff" stroke="#909090" stroke-width="1.15"/>
<circle cx="471.33" cy="1505.38" r="3.3" fill="#fff" stroke="#909090" stroke-width="1.15"/>
<circle cx="468.04" cy="1501.44" r="3.3" fill="#fff" stroke="#909090" stroke-width="1.15"/>
<circle cx="484.12" cy="1505.73" r="3.3" fill="#fff" stroke="#909090" stroke-width="1.15"/>
<circle cx="473.07" cy="1499.67" r="3.3" fill="#fff" stroke="#909090" stroke-width="1.15"/>
<circle cx="474.95" cy="1506.09" r="3.3" fill="#fff" stroke="#909090" stroke-width="1.15"/>
<circle cx="475.16" cy="1499.39" r="3.3" fill="#fff" stroke="#909090" stroke-width="1.15"/>
<circle cx="483.73" cy="1504.36" r="3.3" fill="#fff" stroke="#909090" stroke-width="1.15"/>
<circle cx="488.96" cy="1508.44" r="3.3" fill="#fff" stroke="#909090" stroke-width="1.15"/>
<circle cx="488.83" cy="1502.92" r="3.3" fill="#fff" stroke="#909090" stroke-width="1.15"/>
<circle cx="486.08" cy="1501.45" r="3.3" fill="#fff" stroke="#909090" stroke-width="1.15"/>
<circle cx="473.94" cy="1502.50" r="3.3" fill="#fff" stroke="#909090" stroke-width="1.15"/>
<circle cx="489.37" cy="1507.94" r="3.3" fill="#fff" stroke="#909090" stroke-width="1.15"/>
<circle cx="472.21" cy="1502.08" r="3.3" fill="#fff" stroke="#909090" stroke-width="1.15"/>
</g>
<g opacity="0.82">
<circle cx="597.60" cy="946.70" r="3.3" fill="#fff" stroke="#909090" stroke-width="1.15"/>
<circle cx="607.00" cy="942.00" r="3.3" fill="#fff" stroke="#909090" stroke-width="1.15"/>
<circle cx="611.00" cy="943.50" r="3.3" fill="#fff" stroke="#909090" stroke-width="1.15"/>
<circle cx="612.00" cy="948.00" r="3.3" fill="#fff" stroke="#909090" stroke-width="1.15"/>
<circle cx="609.00" cy="951.00" r="3.3" fill="#fff" stroke="#909090" stroke-width="1.15"/>
<circle cx="613.00" cy="952.50" r="3.3" fill="#fff" stroke="#909090" stroke-width="1.15"/>
<circle cx="608.00" cy="946.00" r="3.3" fill="#fff" stroke="#909090" stroke-width="1.15"/>
<circle cx="610.00" cy="944.50" r="3.3" fill="#fff" stroke="#909090" stroke-width="1.15"/>
</g>
<g opacity="0.82">
<circle cx="598.50" cy="1038.86" r="3.3" fill="#fff" stroke="#909090" stroke-width="1.15"/>
<circle cx="599.29" cy="1039.13" r="3.3" fill="#fff" stroke="#909090" stroke-width="1.15"/>
<circle cx="594.07" cy="1041.07" r="3.3" fill="#fff" stroke="#909090" stroke-width="1.15"/>
<circle cx="609.72" cy="1040.81" r="3.3" fill="#fff" stroke="#909090" stroke-width="1.15"/>
<circle cx="610.75" cy="1041.06" r="3.3" fill="#fff" stroke="#909090" stroke-width="1.15"/>
<circle cx="593.59" cy="1043.22" r="3.3" fill="#fff" stroke="#909090" stroke-width="1.15"/>
<circle cx="611.90" cy="1037.96" r="3.3" fill="#fff" stroke="#909090" stroke-width="1.15"/>
<circle cx="589.58" cy="1040.54" r="3.3" fill="#fff" stroke="#909090" stroke-width="1.15"/>
<circle cx="603.15" cy="1041.11" r="3.3" fill="#fff" stroke="#909090" stroke-width="1.15"/>
<circle cx="614.13" cy="1042.03" r="3.3" fill="#fff" stroke="#909090" stroke-width="1.15"/>
<circle cx="609.91" cy="1035.57" r="3.3" fill="#fff" stroke="#909090" stroke-width="1.15"/>
<circle cx="603.22" cy="1043.54" r="3.3" fill="#fff" stroke="#909090" stroke-width="1.15"/>
<circle cx="591.19" cy="1035.77" r="3.3" fill="#fff" stroke="#909090" stroke-width="1.15"/>
<circle cx="608.16" cy="1044.76" r="3.3" fill="#fff" stroke="#909090" stroke-width="1.15"/>
<circle cx="591.20" cy="1041.84" r="3.3" fill="#fff" stroke="#909090" stroke-width="1.15"/>
<circle cx="592.74" cy="1043.07" r="3.3" fill="#fff" stroke="#909090" stroke-width="1.15"/>
<circle cx="605.87" cy="1037.57" r="3.3" fill="#fff" stroke="#909090" stroke-width="1.15"/>
<circle cx="594.73" cy="1043.29" r="3.3" fill="#fff" stroke="#909090" stroke-width="1.15"/>
<circle cx="602.56" cy="1043.28" r="3.3" fill="#fff" stroke="#909090" stroke-width="1.15"/>
<circle cx="599.25" cy="1038.58" r="3.3" fill="#fff" stroke="#909090" stroke-width="1.15"/>
<circle cx="614.18" cy="1042.26" r="3.3" fill="#fff" stroke="#909090" stroke-width="1.15"/>
<circle cx="601.84" cy="1040.78" r="3.3" fill="#fff" stroke="#909090" stroke-width="1.15"/>
<circle cx="607.74" cy="1042.66" r="3.3" fill="#fff" stroke="#909090" stroke-width="1.15"/>
<circle cx="612.79" cy="1039.38" r="3.3" fill="#fff" stroke="#909090" stroke-width="1.15"/>
</g>
<g opacity="0.82">
<circle cx="611.48" cy="1135.37" r="3.3" fill="#fff" stroke="#909090" stroke-width="1.15"/>
<circle cx="612.19" cy="1136.90" r="3.3" fill="#fff" stroke="#909090" stroke-width="1.15"/>
<circle cx="611.68" cy="1137.81" r="3.3" fill="#fff" stroke="#909090" stroke-width="1.15"/>
<circle cx="614.90" cy="1135.08" r="3.3" fill="#fff" stroke="#909090" stroke-width="1.15"/>
<circle cx="603.62" cy="1135.84" r="3.3" fill="#fff" stroke="#909090" stroke-width="1.15"/>
<circle cx="610.86" cy="1132.67" r="3.3" fill="#fff" stroke="#909090" stroke-width="1.15"/>
<circle cx="600.93" cy="1129.64" r="3.3" fill="#fff" stroke="#909090" stroke-width="1.15"/>
<circle cx="609.27" cy="1138.93" r="3.3" fill="#fff" stroke="#909090" stroke-width="1.15"/>
<circle cx="599.76" cy="1129.88" r="3.3" fill="#fff" stroke="#909090" stroke-width="1.15"/>
<circle cx="595.31" cy="1132.71" r="3.3" fill="#fff" stroke="#909090" stroke-width="1.15"/>
<circle cx="597.59" cy="1138.70" r="3.3" fill="#fff" stroke="#909090" stroke-width="1.15"/>
<circle cx="591.54" cy="1131.43" r="3.3" fill="#fff" stroke="#909090" stroke-width="1.15"/>
<circle cx="592.99" cy="1135.16" r="3.3" fill="#fff" stroke="#909090" stroke-width="1.15"/>
<circle cx="610.17" cy="1130.01" r="3.3" fill="#fff" stroke="#909090" stroke-width="1.15"/>
<circle cx="591.62" cy="1133.08" r="3.3" fill="#fff" stroke="#909090" stroke-width="1.15"/>
<circle cx="605.19" cy="1138.04" r="3.3" fill="#fff" stroke="#909090" stroke-width="1.15"/>
<circle cx="590.95" cy="1129.23" r="3.3" fill="#fff" stroke="#909090" stroke-width="1.15"/>
<circle cx="594.80" cy="1130.42" r="3.3" fill="#fff" stroke="#909090" stroke-width="1.15"/>
<circle cx="596.12" cy="1135.92" r="3.3" fill="#fff" stroke="#909090" stroke-width="1.15"/>
<circle cx="605.46" cy="1130.50" r="3.3" fill="#fff" stroke="#909090" stroke-width="1.15"/>
<circle cx="594.81" cy="1131.13" r="3.3" fill="#fff" stroke="#909090" stroke-width="1.15"/>
<circle cx="594.49" cy="1136.37" r="3.3" fill="#fff" stroke="#909090" stroke-width="1.15"/>
<circle cx="598.10" cy="1134.06" r="3.3" fill="#fff" stroke="#909090" stroke-width="1.15"/>
<circle cx="611.25" cy="1133.31" r="3.3" fill="#fff" stroke="#909090" stroke-width="1.15"/>
<circle cx="596.77" cy="1137.79" r="3.3" fill="#fff" stroke="#909090" stroke-width="1.15"/>
<circle cx="613.77" cy="1131.80" r="3.3" fill="#fff" stroke="#909090" stroke-width="1.15"/>
</g>
<g opacity="0.82">
<circle cx="604.23" cy="1231.53" r="3.3" fill="#fff" stroke="#909090" stroke-width="1.15"/>
<circle cx="602.55" cy="1223.43" r="3.3" fill="#fff" stroke="#909090" stroke-width="1.15"/>
<circle cx="591.29" cy="1231.42" r="3.3" fill="#fff" stroke="#909090" stroke-width="1.15"/>
<circle cx="610.84" cy="1225.23" r="3.3" fill="#fff" stroke="#909090" stroke-width="1.15"/>
<circle cx="603.72" cy="1226.67" r="3.3" fill="#fff" stroke="#909090" stroke-width="1.15"/>
<circle cx="597.14" cy="1231.89" r="3.3" fill="#fff" stroke="#909090" stroke-width="1.15"/>
<circle cx="607.10" cy="1223.61" r="3.3" fill="#fff" stroke="#909090" stroke-width="1.15"/>
<circle cx="590.28" cy="1226.20" r="3.3" fill="#fff" stroke="#909090" stroke-width="1.15"/>
<circle cx="599.66" cy="1229.76" r="3.3" fill="#fff" stroke="#909090" stroke-width="1.15"/>
<circle cx="608.55" cy="1227.67" r="3.3" fill="#fff" stroke="#909090" stroke-width="1.15"/>
<circle cx="594.09" cy="1222.73" r="3.3" fill="#fff" stroke="#909090" stroke-width="1.15"/>
<circle cx="598.37" cy="1223.85" r="3.3" fill="#fff" stroke="#909090" stroke-width="1.15"/>
<circle cx="612.60" cy="1226.68" r="3.3" fill="#fff" stroke="#909090" stroke-width="1.15"/>
<circle cx="606.56" cy="1231.92" r="3.3" fill="#fff" stroke="#909090" stroke-width="1.15"/>
<circle cx="596.93" cy="1226.88" r="3.3" fill="#fff" stroke="#909090" stroke-width="1.15"/>
<circle cx="593.92" cy="1229.47" r="3.3" fill="#fff" stroke="#909090" stroke-width="1.15"/>
<circle cx="590.04" cy="1230.04" r="3.3" fill="#fff" stroke="#909090" stroke-width="1.15"/>
<circle cx="612.00" cy="1230.04" r="3.3" fill="#fff" stroke="#909090" stroke-width="1.15"/>
<circle cx="592.14" cy="1223.97" r="3.3" fill="#fff" stroke="#909090" stroke-width="1.15"/>
<circle cx="608.63" cy="1222.07" r="3.3" fill="#fff" stroke="#909090" stroke-width="1.15"/>
</g>
<g opacity="0.82">
<circle cx="602.48" cy="1319.02" r="3.3" fill="#fff" stroke="#909090" stroke-width="1.15"/>
<circle cx="614.84" cy="1320.32" r="3.3" fill="#fff" stroke="#909090" stroke-width="1.15"/>
<circle cx="612.29" cy="1317.21" r="3.3" fill="#fff" stroke="#909090" stroke-width="1.15"/>
<circle cx="610.52" cy="1318.45" r="3.3" fill="#fff" stroke="#909090" stroke-width="1.15"/>
<circle cx="613.84" cy="1314.87" r="3.3" fill="#fff" stroke="#909090" stroke-width="1.15"/>
<circle cx="611.48" cy="1316.16" r="3.3" fill="#fff" stroke="#909090" stroke-width="1.15"/>
<circle cx="604.13" cy="1319.65" r="3.3" fill="#fff" stroke="#909090" stroke-width="1.15"/>
<circle cx="594.10" cy="1323.02" r="3.3" fill="#fff" stroke="#909090" stroke-width="1.15"/>
<circle cx="598.10" cy="1317.28" r="3.3" fill="#fff" stroke="#909090" stroke-width="1.15"/>
<circle cx="591.98" cy="1317.23" r="3.3" fill="#fff" stroke="#909090" stroke-width="1.15"/>
<circle cx="602.15" cy="1321.73" r="3.3" fill="#fff" stroke="#909090" stroke-width="1.15"/>
<circle cx="599.35" cy="1321.42" r="3.3" fill="#fff" stroke="#909090" stroke-width="1.15"/>
<circle cx="592.75" cy="1318.20" r="3.3" fill="#fff" stroke="#909090" stroke-width="1.15"/>
<circle cx="602.01" cy="1324.50" r="3.3" fill="#fff" stroke="#909090" stroke-width="1.15"/>
<circle cx="611.57" cy="1321.06" r="3.3" fill="#fff" stroke="#909090" stroke-width="1.15"/>
<circle cx="590.32" cy="1318.02" r="3.3" fill="#fff" stroke="#909090" stroke-width="1.15"/>
<circle cx="608.46" cy="1316.48" r="3.3" fill="#fff" stroke="#909090" stroke-width="1.15"/>
<circle cx="604.67" cy="1318.91" r="3.3" fill="#fff" stroke="#909090" stroke-width="1.15"/>
<circle cx="590.27" cy="1324.77" r="3.3" fill="#fff" stroke="#909090" stroke-width="1.15"/>
<circle cx="610.79" cy="1316.14" r="3.3" fill="#fff" stroke="#909090" stroke-width="1.15"/>
<circle cx="606.02" cy="1317.06" r="3.3" fill="#fff" stroke="#909090" stroke-width="1.15"/>
<circle cx="599.78" cy="1319.80" r="3.3" fill="#fff" stroke="#909090" stroke-width="1.15"/>
<circle cx="597.75" cy="1317.58" r="3.3" fill="#fff" stroke="#909090" stroke-width="1.15"/>
<circle cx="600.20" cy="1321.20" r="3.3" fill="#fff" stroke="#909090" stroke-width="1.15"/>
<circle cx="596.67" cy="1316.07" r="3.3" fill="#fff" stroke="#909090" stroke-width="1.15"/>
<circle cx="609.02" cy="1317.49" r="3.3" fill="#fff" stroke="#909090" stroke-width="1.15"/>
</g>
<g opacity="0.82">
<circle cx="614.63" cy="1413.92" r="3.3" fill="#fff" stroke="#909090" stroke-width="1.15"/>
<circle cx="609.09" cy="1411.38" r="3.3" fill="#fff" stroke="#909090" stroke-width="1.15"/>
<circle cx="611.67" cy="1408.75" r="3.3" fill="#fff" stroke="#909090" stroke-width="1.15"/>
<circle cx="594.52" cy="1408.77" r="3.3" fill="#fff" stroke="#909090" stroke-width="1.15"/>
<circle cx="607.94" cy="1415.52" r="3.3" fill="#fff" stroke="#909090" stroke-width="1.15"/>
<circle cx="595.50" cy="1412.16" r="3.3" fill="#fff" stroke="#909090" stroke-width="1.15"/>
<circle cx="611.92" cy="1414.25" r="3.3" fill="#fff" stroke="#909090" stroke-width="1.15"/>
<circle cx="593.25" cy="1410.23" r="3.3" fill="#fff" stroke="#909090" stroke-width="1.15"/>
<circle cx="594.93" cy="1409.10" r="3.3" fill="#fff" stroke="#909090" stroke-width="1.15"/>
<circle cx="601.17" cy="1408.53" r="3.3" fill="#fff" stroke="#909090" stroke-width="1.15"/>
<circle cx="614.02" cy="1412.43" r="3.3" fill="#fff" stroke="#909090" stroke-width="1.15"/>
<circle cx="603.79" cy="1414.85" r="3.3" fill="#fff" stroke="#909090" stroke-width="1.15"/>
<circle cx="610.17" cy="1416.77" r="3.3" fill="#fff" stroke="#909090" stroke-width="1.15"/>
<circle cx="600.65" cy="1411.38" r="3.3" fill="#fff" stroke="#909090" stroke-width="1.15"/>
<circle cx="601.30" cy="1407.90" r="3.3" fill="#fff" stroke="#909090" stroke-width="1.15"/>
<circle cx="601.02" cy="1415.43" r="3.3" fill="#fff" stroke="#909090" stroke-width="1.15"/>
<circle cx="615.55" cy="1416.42" r="3.3" fill="#fff" stroke="#909090" stroke-width="1.15"/>
<circle cx="607.51" cy="1414.43" r="3.3" fill="#fff" stroke="#909090" stroke-width="1.15"/>
<circle cx="591.46" cy="1411.37" r="3.3" fill="#fff" stroke="#909090" stroke-width="1.15"/>
<circle cx="599.56" cy="1414.89" r="3.3" fill="#fff" stroke="#909090" stroke-width="1.15"/>
<circle cx="593.66" cy="1411.89" r="3.3" fill="#fff" stroke="#909090" stroke-width="1.15"/>
<circle cx="603.73" cy="1416.41" r="3.3" fill="#fff" stroke="#909090" stroke-width="1.15"/>
<circle cx="611.63" cy="1414.46" r="3.3" fill="#fff" stroke="#909090" stroke-width="1.15"/>
<circle cx="594.96" cy="1416.16" r="3.3" fill="#fff" stroke="#909090" stroke-width="1.15"/>
</g>
<g opacity="0.82">
<circle cx="613.48" cy="1504.13" r="3.3" fill="#fff" stroke="#909090" stroke-width="1.15"/>
<circle cx="599.17" cy="1503.60" r="3.3" fill="#fff" stroke="#909090" stroke-width="1.15"/>
<circle cx="593.69" cy="1505.95" r="3.3" fill="#fff" stroke="#909090" stroke-width="1.15"/>
<circle cx="615.66" cy="1503.78" r="3.3" fill="#fff" stroke="#909090" stroke-width="1.15"/>
<circle cx="608.60" cy="1507.29" r="3.3" fill="#fff" stroke="#909090" stroke-width="1.15"/>
<circle cx="595.13" cy="1508.49" r="3.3" fill="#fff" stroke="#909090" stroke-width="1.15"/>
<circle cx="606.30" cy="1500.28" r="3.3" fill="#fff" stroke="#909090" stroke-width="1.15"/>
<circle cx="592.16" cy="1500.79" r="3.3" fill="#fff" stroke="#909090" stroke-width="1.15"/>
<circle cx="604.99" cy="1505.77" r="3.3" fill="#fff" stroke="#909090" stroke-width="1.15"/>
<circle cx="598.56" cy="1508.32" r="3.3" fill="#fff" stroke="#909090" stroke-width="1.15"/>
<circle cx="599.39" cy="1503.19" r="3.3" fill="#fff" stroke="#909090" stroke-width="1.15"/>
<circle cx="593.22" cy="1508.81" r="3.3" fill="#fff" stroke="#909090" stroke-width="1.15"/>
<circle cx="593.53" cy="1508.04" r="3.3" fill="#fff" stroke="#909090" stroke-width="1.15"/>
<circle cx="604.13" cy="1504.27" r="3.3" fill="#fff" stroke="#909090" stroke-width="1.15"/>
<circle cx="604.57" cy="1501.01" r="3.3" fill="#fff" stroke="#909090" stroke-width="1.15"/>
<circle cx="613.64" cy="1509.01" r="3.3" fill="#fff" stroke="#909090" stroke-width="1.15"/>
<circle cx="611.26" cy="1504.72" r="3.3" fill="#fff" stroke="#909090" stroke-width="1.15"/>
<circle cx="593.19" cy="1507.17" r="3.3" fill="#fff" stroke="#909090" stroke-width="1.15"/>
<circle cx="597.50" cy="1507.97" r="3.3" fill="#fff" stroke="#909090" stroke-width="1.15"/>
<circle cx="596.26" cy="1504.41" r="3.3" fill="#fff" stroke="#909090" stroke-width="1.15"/>
<circle cx="611.60" cy="1500.14" r="3.3" fill="#fff" stroke="#909090" stroke-width="1.15"/>
<circle cx="604.24" cy="1498.94" r="3.3" fill="#fff" stroke="#909090" stroke-width="1.15"/>
<circle cx="590.83" cy="1500.08" r="3.3" fill="#fff" stroke="#909090" stroke-width="1.15"/>
<circle cx="615.66" cy="1508.43" r="3.3" fill="#fff" stroke="#909090" stroke-width="1.15"/>
</g>
<line x1="141.40" y1="1228.00" x2="689.00" y2="1228.00" stroke="#000" stroke-width="2.9" stroke-linecap="butt" stroke-dasharray="12.7 12.6" />
<line x1="216.20" y1="1424.10" x2="241.50" y2="1424.10" stroke="#a3460b" stroke-width="2.4" stroke-linecap="butt" />
<line x1="216.20" y1="1439.40" x2="241.50" y2="1439.40" stroke="#a3460b" stroke-width="2.4" stroke-linecap="butt" />
<line x1="228.85" y1="1424.10" x2="228.85" y2="1439.40" stroke="#a3460b" stroke-width="2.4" stroke-linecap="butt" />
<line x1="341.20" y1="973.80" x2="366.00" y2="973.80" stroke="#1b6b45" stroke-width="2.4" stroke-linecap="butt" />
<line x1="341.20" y1="982.20" x2="366.00" y2="982.20" stroke="#1b6b45" stroke-width="2.4" stroke-linecap="butt" />
<line x1="353.60" y1="973.80" x2="353.60" y2="982.20" stroke="#1b6b45" stroke-width="2.4" stroke-linecap="butt" />
<line x1="465.80" y1="1192.50" x2="491.00" y2="1192.50" stroke="#a3460b" stroke-width="2.4" stroke-linecap="butt" />
<line x1="465.80" y1="1214.50" x2="491.00" y2="1214.50" stroke="#a3460b" stroke-width="2.4" stroke-linecap="butt" />
<line x1="478.40" y1="1192.50" x2="478.40" y2="1214.50" stroke="#a3460b" stroke-width="2.4" stroke-linecap="butt" />
<line x1="590.30" y1="1282.50" x2="615.90" y2="1282.50" stroke="#1b6b45" stroke-width="2.4" stroke-linecap="butt" />
<line x1="590.30" y1="1302.40" x2="615.90" y2="1302.40" stroke="#1b6b45" stroke-width="2.4" stroke-linecap="butt" />
<line x1="603.10" y1="1282.50" x2="603.10" y2="1302.40" stroke="#1b6b45" stroke-width="2.4" stroke-linecap="butt" />
<line x1="141.40" y1="942.50" x2="141.40" y2="1508.70" stroke="#000" stroke-width="2.3" stroke-linecap="butt" />
<line x1="140.30" y1="1507.60" x2="689.00" y2="1507.60" stroke="#000" stroke-width="2.3" stroke-linecap="butt" />
<rect x="506.40" y="961.90" width="25.60" height="25.10" fill="#56b084"/>
<line x1="508.00" y1="974.40" x2="530.50" y2="974.40" stroke="#1b6b45" stroke-width="3" stroke-linecap="butt" />
<circle cx="519.30" cy="974.40" r="3.6" fill="#fff" stroke="#1d3d2d" stroke-width="1.0" />
<rect x="507.00" y="992.30" width="25.00" height="25.10" fill="#d55e00"/>
<line x1="508.50" y1="1005.00" x2="530.50" y2="1005.00" stroke="#a3460b" stroke-width="3" stroke-linecap="butt" />
<circle cx="519.60" cy="1005.00" r="3.6" fill="#fff" stroke="#5a2a05" stroke-width="1.0" />
</g>
<g id="pd">
<circle cx="890.50" cy="1361.00" r="7.6" fill="#fff" stroke="#000" stroke-width="1.35"/>
<circle cx="890.50" cy="1372.30" r="7.6" fill="#fff" stroke="#000" stroke-width="1.35"/>
<circle cx="890.50" cy="1409.70" r="7.6" fill="#fff" stroke="#000" stroke-width="1.35"/>
<circle cx="890.50" cy="1414.00" r="7.6" fill="#fff" stroke="#000" stroke-width="1.35"/>
<circle cx="890.50" cy="1430.20" r="7.6" fill="#fff" stroke="#000" stroke-width="1.35"/>
<circle cx="890.50" cy="1440.10" r="7.6" fill="#fff" stroke="#000" stroke-width="1.35"/>
<circle cx="890.50" cy="1450.00" r="7.6" fill="#fff" stroke="#000" stroke-width="1.35"/>
<circle cx="890.50" cy="1455.60" r="7.6" fill="#fff" stroke="#000" stroke-width="1.35"/>
<circle cx="890.50" cy="1459.20" r="7.6" fill="#fff" stroke="#000" stroke-width="1.35"/>
<circle cx="890.50" cy="1469.10" r="7.6" fill="#fff" stroke="#000" stroke-width="1.35"/>
<circle cx="890.50" cy="1474.00" r="7.6" fill="#fff" stroke="#000" stroke-width="1.35"/>
<circle cx="935.92" cy="1298.10" r="7.6" fill="#fff" stroke="#000" stroke-width="1.35"/>
<circle cx="935.92" cy="1303.80" r="7.6" fill="#fff" stroke="#000" stroke-width="1.35"/>
<circle cx="935.92" cy="1421.00" r="7.6" fill="#fff" stroke="#000" stroke-width="1.35"/>
<circle cx="935.92" cy="1425.30" r="7.6" fill="#fff" stroke="#000" stroke-width="1.35"/>
<circle cx="935.92" cy="1450.00" r="7.6" fill="#fff" stroke="#000" stroke-width="1.35"/>
<circle cx="935.92" cy="1457.00" r="7.6" fill="#fff" stroke="#000" stroke-width="1.35"/>
<circle cx="935.92" cy="1464.80" r="7.6" fill="#fff" stroke="#000" stroke-width="1.35"/>
<circle cx="981.33" cy="1294.30" r="7.6" fill="#fff" stroke="#000" stroke-width="1.35"/>
<circle cx="981.33" cy="1320.00" r="7.6" fill="#fff" stroke="#000" stroke-width="1.35"/>
<circle cx="981.33" cy="1329.90" r="7.6" fill="#fff" stroke="#000" stroke-width="1.35"/>
<circle cx="981.33" cy="1339.80" r="7.6" fill="#fff" stroke="#000" stroke-width="1.35"/>
<circle cx="981.33" cy="1381.80" r="7.6" fill="#fff" stroke="#000" stroke-width="1.35"/>
<circle cx="981.33" cy="1440.50" r="7.6" fill="#fff" stroke="#000" stroke-width="1.35"/>
<circle cx="981.33" cy="1450.00" r="7.6" fill="#fff" stroke="#000" stroke-width="1.35"/>
<circle cx="981.33" cy="1469.10" r="7.6" fill="#fff" stroke="#000" stroke-width="1.35"/>
<circle cx="1026.75" cy="1180.30" r="7.6" fill="#fff" stroke="#000" stroke-width="1.35"/>
<circle cx="1026.75" cy="1219.00" r="7.6" fill="#fff" stroke="#000" stroke-width="1.35"/>
<circle cx="1026.75" cy="1272.20" r="7.6" fill="#fff" stroke="#000" stroke-width="1.35"/>
<circle cx="1026.75" cy="1286.90" r="7.6" fill="#fff" stroke="#000" stroke-width="1.35"/>
<circle cx="1026.75" cy="1296.30" r="7.6" fill="#fff" stroke="#000" stroke-width="1.35"/>
<circle cx="1026.75" cy="1305.70" r="7.6" fill="#fff" stroke="#000" stroke-width="1.35"/>
<circle cx="1026.75" cy="1333.90" r="7.6" fill="#fff" stroke="#000" stroke-width="1.35"/>
<circle cx="1026.75" cy="1339.10" r="7.6" fill="#fff" stroke="#000" stroke-width="1.35"/>
<circle cx="1026.75" cy="1356.90" r="7.6" fill="#fff" stroke="#000" stroke-width="1.35"/>
<circle cx="1026.75" cy="1361.00" r="7.6" fill="#fff" stroke="#000" stroke-width="1.35"/>
<circle cx="1026.75" cy="1386.10" r="7.6" fill="#fff" stroke="#000" stroke-width="1.35"/>
<circle cx="1026.75" cy="1469.70" r="7.6" fill="#fff" stroke="#000" stroke-width="1.35"/>
<circle cx="1026.75" cy="1474.90" r="7.6" fill="#fff" stroke="#000" stroke-width="1.35"/>
<circle cx="1072.17" cy="1117.90" r="7.6" fill="#fff" stroke="#000" stroke-width="1.35"/>
<circle cx="1072.17" cy="1151.80" r="7.6" fill="#fff" stroke="#000" stroke-width="1.35"/>
<circle cx="1072.17" cy="1199.70" r="7.6" fill="#fff" stroke="#000" stroke-width="1.35"/>
<circle cx="1072.17" cy="1206.40" r="7.6" fill="#fff" stroke="#000" stroke-width="1.35"/>
<circle cx="1072.17" cy="1209.30" r="7.6" fill="#fff" stroke="#000" stroke-width="1.35"/>
<circle cx="1072.17" cy="1212.70" r="7.6" fill="#fff" stroke="#000" stroke-width="1.35"/>
<circle cx="1072.17" cy="1218.10" r="7.6" fill="#fff" stroke="#000" stroke-width="1.35"/>
<circle cx="1072.17" cy="1224.20" r="7.6" fill="#fff" stroke="#000" stroke-width="1.35"/>
<circle cx="1072.17" cy="1226.90" r="7.6" fill="#fff" stroke="#000" stroke-width="1.35"/>
<circle cx="1072.17" cy="1237.80" r="7.6" fill="#fff" stroke="#000" stroke-width="1.35"/>
<circle cx="1072.17" cy="1249.20" r="7.6" fill="#fff" stroke="#000" stroke-width="1.35"/>
<circle cx="1072.17" cy="1262.80" r="7.6" fill="#fff" stroke="#000" stroke-width="1.35"/>
<circle cx="1072.17" cy="1269.10" r="7.6" fill="#fff" stroke="#000" stroke-width="1.35"/>
<circle cx="1072.17" cy="1282.70" r="7.6" fill="#fff" stroke="#000" stroke-width="1.35"/>
<circle cx="1072.17" cy="1292.10" r="7.6" fill="#fff" stroke="#000" stroke-width="1.35"/>
<circle cx="1072.17" cy="1305.70" r="7.6" fill="#fff" stroke="#000" stroke-width="1.35"/>
<circle cx="1072.17" cy="1311.90" r="7.6" fill="#fff" stroke="#000" stroke-width="1.35"/>
<circle cx="1072.17" cy="1329.70" r="7.6" fill="#fff" stroke="#000" stroke-width="1.35"/>
<circle cx="1072.17" cy="1334.90" r="7.6" fill="#fff" stroke="#000" stroke-width="1.35"/>
<circle cx="1072.17" cy="1344.30" r="7.6" fill="#fff" stroke="#000" stroke-width="1.35"/>
<circle cx="1072.17" cy="1353.70" r="7.6" fill="#fff" stroke="#000" stroke-width="1.35"/>
<circle cx="1072.17" cy="1376.70" r="7.6" fill="#fff" stroke="#000" stroke-width="1.35"/>
<circle cx="1072.17" cy="1383.00" r="7.6" fill="#fff" stroke="#000" stroke-width="1.35"/>
<circle cx="1072.17" cy="1390.30" r="7.6" fill="#fff" stroke="#000" stroke-width="1.35"/>
<circle cx="1117.58" cy="1098.40" r="7.6" fill="#fff" stroke="#000" stroke-width="1.35"/>
<circle cx="1117.58" cy="1127.00" r="7.6" fill="#fff" stroke="#000" stroke-width="1.35"/>
<circle cx="1117.58" cy="1137.00" r="7.6" fill="#fff" stroke="#000" stroke-width="1.35"/>
<circle cx="1117.58" cy="1147.40" r="7.6" fill="#fff" stroke="#000" stroke-width="1.35"/>
<circle cx="1117.58" cy="1151.80" r="7.6" fill="#fff" stroke="#000" stroke-width="1.35"/>
<circle cx="1117.58" cy="1153.10" r="7.6" fill="#fff" stroke="#000" stroke-width="1.35"/>
<circle cx="1117.58" cy="1160.50" r="7.6" fill="#fff" stroke="#000" stroke-width="1.35"/>
<circle cx="1117.58" cy="1192.30" r="7.6" fill="#fff" stroke="#000" stroke-width="1.35"/>
<circle cx="1117.58" cy="1194.50" r="7.6" fill="#fff" stroke="#000" stroke-width="1.35"/>
<circle cx="1117.58" cy="1213.70" r="7.6" fill="#fff" stroke="#000" stroke-width="1.35"/>
<circle cx="1117.58" cy="1221.00" r="7.6" fill="#fff" stroke="#000" stroke-width="1.35"/>
<circle cx="1117.58" cy="1228.40" r="7.6" fill="#fff" stroke="#000" stroke-width="1.35"/>
<circle cx="1117.58" cy="1230.40" r="7.6" fill="#fff" stroke="#000" stroke-width="1.35"/>
<circle cx="1117.58" cy="1237.80" r="7.6" fill="#fff" stroke="#000" stroke-width="1.35"/>
<circle cx="1117.58" cy="1244.00" r="7.6" fill="#fff" stroke="#000" stroke-width="1.35"/>
<circle cx="1117.58" cy="1262.80" r="7.6" fill="#fff" stroke="#000" stroke-width="1.35"/>
<circle cx="1117.58" cy="1277.50" r="7.6" fill="#fff" stroke="#000" stroke-width="1.35"/>
<circle cx="1117.58" cy="1283.70" r="7.6" fill="#fff" stroke="#000" stroke-width="1.35"/>
<circle cx="1117.58" cy="1296.30" r="7.6" fill="#fff" stroke="#000" stroke-width="1.35"/>
<circle cx="1117.58" cy="1304.60" r="7.6" fill="#fff" stroke="#000" stroke-width="1.35"/>
<circle cx="1117.58" cy="1315.10" r="7.6" fill="#fff" stroke="#000" stroke-width="1.35"/>
<circle cx="1117.58" cy="1324.50" r="7.6" fill="#fff" stroke="#000" stroke-width="1.35"/>
<circle cx="1117.58" cy="1329.70" r="7.6" fill="#fff" stroke="#000" stroke-width="1.35"/>
<circle cx="1117.58" cy="1364.20" r="7.6" fill="#fff" stroke="#000" stroke-width="1.35"/>
<circle cx="1117.58" cy="1372.50" r="7.6" fill="#fff" stroke="#000" stroke-width="1.35"/>
<circle cx="1117.58" cy="1379.80" r="7.6" fill="#fff" stroke="#000" stroke-width="1.35"/>
<circle cx="1117.58" cy="1387.20" r="7.6" fill="#fff" stroke="#000" stroke-width="1.35"/>
<circle cx="1117.58" cy="1420.60" r="7.6" fill="#fff" stroke="#000" stroke-width="1.35"/>
<circle cx="1117.58" cy="1444.60" r="7.6" fill="#fff" stroke="#000" stroke-width="1.35"/>
<circle cx="1163.00" cy="1073.90" r="7.6" fill="#fff" stroke="#000" stroke-width="1.35"/>
<circle cx="1163.00" cy="1084.20" r="7.6" fill="#fff" stroke="#000" stroke-width="1.35"/>
<circle cx="1163.00" cy="1098.80" r="7.6" fill="#fff" stroke="#000" stroke-width="1.35"/>
<circle cx="1163.00" cy="1119.70" r="7.6" fill="#fff" stroke="#000" stroke-width="1.35"/>
<circle cx="1163.00" cy="1122.90" r="7.6" fill="#fff" stroke="#000" stroke-width="1.35"/>
<circle cx="1163.00" cy="1139.00" r="7.6" fill="#fff" stroke="#000" stroke-width="1.35"/>
<circle cx="1163.00" cy="1170.60" r="7.6" fill="#fff" stroke="#000" stroke-width="1.35"/>
<circle cx="1163.00" cy="1179.00" r="7.6" fill="#fff" stroke="#000" stroke-width="1.35"/>
<circle cx="1163.00" cy="1191.20" r="7.6" fill="#fff" stroke="#000" stroke-width="1.35"/>
<circle cx="1163.00" cy="1201.60" r="7.6" fill="#fff" stroke="#000" stroke-width="1.35"/>
<circle cx="1163.00" cy="1204.80" r="7.6" fill="#fff" stroke="#000" stroke-width="1.35"/>
<circle cx="1163.00" cy="1218.30" r="7.6" fill="#fff" stroke="#000" stroke-width="1.35"/>
<circle cx="1163.00" cy="1229.90" r="7.6" fill="#fff" stroke="#000" stroke-width="1.35"/>
<circle cx="1163.00" cy="1237.00" r="7.6" fill="#fff" stroke="#000" stroke-width="1.35"/>
<circle cx="1163.00" cy="1240.00" r="7.6" fill="#fff" stroke="#000" stroke-width="1.35"/>
<circle cx="1163.00" cy="1251.50" r="7.6" fill="#fff" stroke="#000" stroke-width="1.35"/>
<circle cx="1163.00" cy="1257.70" r="7.6" fill="#fff" stroke="#000" stroke-width="1.35"/>
<circle cx="1163.00" cy="1262.30" r="7.6" fill="#fff" stroke="#000" stroke-width="1.35"/>
<circle cx="1163.00" cy="1268.40" r="7.6" fill="#fff" stroke="#000" stroke-width="1.35"/>
<circle cx="1163.00" cy="1281.50" r="7.6" fill="#fff" stroke="#000" stroke-width="1.35"/>
<circle cx="1163.00" cy="1286.10" r="7.6" fill="#fff" stroke="#000" stroke-width="1.35"/>
<circle cx="1163.00" cy="1290.70" r="7.6" fill="#fff" stroke="#000" stroke-width="1.35"/>
<circle cx="1163.00" cy="1300.60" r="7.6" fill="#fff" stroke="#000" stroke-width="1.35"/>
<circle cx="1163.00" cy="1310.60" r="7.6" fill="#fff" stroke="#000" stroke-width="1.35"/>
<circle cx="1163.00" cy="1338.30" r="7.6" fill="#fff" stroke="#000" stroke-width="1.35"/>
<circle cx="1163.00" cy="1345.20" r="7.6" fill="#fff" stroke="#000" stroke-width="1.35"/>
<circle cx="1163.00" cy="1362.80" r="7.6" fill="#fff" stroke="#000" stroke-width="1.35"/>
<circle cx="1163.00" cy="1368.20" r="7.6" fill="#fff" stroke="#000" stroke-width="1.35"/>
<circle cx="1163.00" cy="1378.20" r="7.6" fill="#fff" stroke="#000" stroke-width="1.35"/>
<circle cx="1163.00" cy="1421.20" r="7.6" fill="#fff" stroke="#000" stroke-width="1.35"/>
<circle cx="1163.00" cy="1464.20" r="7.6" fill="#fff" stroke="#000" stroke-width="1.35"/>
<circle cx="1208.42" cy="998.70" r="7.6" fill="#fff" stroke="#000" stroke-width="1.35"/>
<circle cx="1208.42" cy="1027.60" r="7.6" fill="#fff" stroke="#000" stroke-width="1.35"/>
<circle cx="1208.42" cy="1088.00" r="7.6" fill="#fff" stroke="#000" stroke-width="1.35"/>
<circle cx="1208.42" cy="1090.00" r="7.6" fill="#fff" stroke="#000" stroke-width="1.35"/>
<circle cx="1208.42" cy="1133.80" r="7.6" fill="#fff" stroke="#000" stroke-width="1.35"/>
<circle cx="1208.42" cy="1138.40" r="7.6" fill="#fff" stroke="#000" stroke-width="1.35"/>
<circle cx="1208.42" cy="1157.10" r="7.6" fill="#fff" stroke="#000" stroke-width="1.35"/>
<circle cx="1208.42" cy="1161.60" r="7.6" fill="#fff" stroke="#000" stroke-width="1.35"/>
<circle cx="1208.42" cy="1166.10" r="7.6" fill="#fff" stroke="#000" stroke-width="1.35"/>
<circle cx="1208.42" cy="1170.00" r="7.6" fill="#fff" stroke="#000" stroke-width="1.35"/>
<circle cx="1208.42" cy="1180.30" r="7.6" fill="#fff" stroke="#000" stroke-width="1.35"/>
<circle cx="1208.42" cy="1191.90" r="7.6" fill="#fff" stroke="#000" stroke-width="1.35"/>
<circle cx="1208.42" cy="1199.60" r="7.6" fill="#fff" stroke="#000" stroke-width="1.35"/>
<circle cx="1208.42" cy="1213.80" r="7.6" fill="#fff" stroke="#000" stroke-width="1.35"/>
<circle cx="1208.42" cy="1232.50" r="7.6" fill="#fff" stroke="#000" stroke-width="1.35"/>
<circle cx="1208.42" cy="1241.50" r="7.6" fill="#fff" stroke="#000" stroke-width="1.35"/>
<circle cx="1208.42" cy="1247.50" r="7.6" fill="#fff" stroke="#000" stroke-width="1.35"/>
<circle cx="1208.42" cy="1256.40" r="7.6" fill="#fff" stroke="#000" stroke-width="1.35"/>
<circle cx="1208.42" cy="1272.20" r="7.6" fill="#fff" stroke="#000" stroke-width="1.35"/>
<circle cx="1208.42" cy="1284.50" r="7.6" fill="#fff" stroke="#000" stroke-width="1.35"/>
<circle cx="1208.42" cy="1308.30" r="7.6" fill="#fff" stroke="#000" stroke-width="1.35"/>
<circle cx="1208.42" cy="1322.10" r="7.6" fill="#fff" stroke="#000" stroke-width="1.35"/>
<circle cx="1208.42" cy="1349.80" r="7.6" fill="#fff" stroke="#000" stroke-width="1.35"/>
<circle cx="1253.83" cy="992.50" r="7.6" fill="#fff" stroke="#000" stroke-width="1.35"/>
<circle cx="1253.83" cy="1017.70" r="7.6" fill="#fff" stroke="#000" stroke-width="1.35"/>
<circle cx="1253.83" cy="1036.70" r="7.6" fill="#fff" stroke="#000" stroke-width="1.35"/>
<circle cx="1253.83" cy="1078.40" r="7.6" fill="#fff" stroke="#000" stroke-width="1.35"/>
<circle cx="1253.83" cy="1081.50" r="7.6" fill="#fff" stroke="#000" stroke-width="1.35"/>
<circle cx="1253.83" cy="1097.00" r="7.6" fill="#fff" stroke="#000" stroke-width="1.35"/>
<circle cx="1253.83" cy="1100.30" r="7.6" fill="#fff" stroke="#000" stroke-width="1.35"/>
<circle cx="1253.83" cy="1103.00" r="7.6" fill="#fff" stroke="#000" stroke-width="1.35"/>
<circle cx="1253.83" cy="1119.10" r="7.6" fill="#fff" stroke="#000" stroke-width="1.35"/>
<circle cx="1253.83" cy="1128.60" r="7.6" fill="#fff" stroke="#000" stroke-width="1.35"/>
<circle cx="1253.83" cy="1148.10" r="7.6" fill="#fff" stroke="#000" stroke-width="1.35"/>
<circle cx="1253.83" cy="1174.60" r="7.6" fill="#fff" stroke="#000" stroke-width="1.35"/>
<circle cx="1253.83" cy="1180.10" r="7.6" fill="#fff" stroke="#000" stroke-width="1.35"/>
<circle cx="1253.83" cy="1190.10" r="7.6" fill="#fff" stroke="#000" stroke-width="1.35"/>
<circle cx="1253.83" cy="1226.00" r="7.6" fill="#fff" stroke="#000" stroke-width="1.35"/>
<circle cx="1253.83" cy="1232.90" r="7.6" fill="#fff" stroke="#000" stroke-width="1.35"/>
<circle cx="1253.83" cy="1245.40" r="7.6" fill="#fff" stroke="#000" stroke-width="1.35"/>
<circle cx="1253.83" cy="1255.00" r="7.6" fill="#fff" stroke="#000" stroke-width="1.35"/>
<circle cx="1253.83" cy="1257.00" r="7.6" fill="#fff" stroke="#000" stroke-width="1.35"/>
<circle cx="1299.25" cy="1143.60" r="7.6" fill="#fff" stroke="#000" stroke-width="1.35"/>
<circle cx="1299.25" cy="1197.00" r="7.6" fill="#fff" stroke="#000" stroke-width="1.35"/>
<circle cx="1299.25" cy="1272.00" r="7.6" fill="#fff" stroke="#000" stroke-width="1.35"/>
<circle cx="1299.25" cy="1286.80" r="7.6" fill="#fff" stroke="#000" stroke-width="1.35"/>
<circle cx="1344.67" cy="1059.90" r="7.6" fill="#fff" stroke="#000" stroke-width="1.35"/>
<circle cx="1344.67" cy="1067.50" r="7.6" fill="#fff" stroke="#000" stroke-width="1.35"/>
<circle cx="1344.67" cy="1165.20" r="7.6" fill="#fff" stroke="#000" stroke-width="1.35"/>
<circle cx="1390.08" cy="1064.80" r="7.6" fill="#fff" stroke="#000" stroke-width="1.35"/>
<circle cx="1390.08" cy="1207.00" r="7.6" fill="#fff" stroke="#000" stroke-width="1.35"/>
<line x1="1163.30" y1="939.60" x2="1163.30" y2="1508.80" stroke="#000" stroke-width="2.8" stroke-linecap="butt" stroke-dasharray="12.7 12.6" />
<line x1="877.10" y1="1224.00" x2="1448.60" y2="1224.00" stroke="#000" stroke-width="2.8" stroke-linecap="butt" stroke-dasharray="12.7 12.6" />
<path d="M890.50,1402.34 L898.83,1397.16 L907.15,1391.97 L915.48,1386.78 L923.81,1381.59 L932.13,1376.39 L940.46,1371.19 L948.78,1365.98 L957.11,1360.77 L965.44,1355.55 L973.76,1350.33 L982.09,1345.09 L990.42,1339.85 L998.74,1334.60 L1007.07,1329.33 L1015.40,1324.06 L1023.72,1318.76 L1032.05,1313.45 L1040.38,1308.11 L1048.70,1302.75 L1057.03,1297.36 L1065.35,1291.93 L1073.68,1286.47 L1082.01,1280.96 L1090.33,1275.40 L1098.66,1269.78 L1106.99,1264.11 L1115.31,1258.37 L1123.64,1252.57 L1131.97,1246.71 L1140.29,1240.80 L1148.62,1234.83 L1156.94,1228.81 L1165.27,1222.75 L1173.60,1216.65 L1181.92,1210.51 L1190.25,1204.35 L1198.58,1198.17 L1206.90,1191.96 L1215.23,1185.74 L1223.56,1179.50 L1231.88,1173.24 L1240.21,1166.98 L1248.53,1160.70 L1256.86,1154.42 L1265.19,1148.13 L1273.51,1141.83 L1281.84,1135.53 L1290.17,1129.22 L1298.49,1122.91 L1306.82,1116.59 L1315.15,1110.27 L1323.47,1103.94 L1331.80,1097.62 L1340.12,1091.28 L1348.45,1084.95 L1356.78,1078.62 L1365.10,1072.28 L1373.43,1065.94 L1381.76,1059.60 L1390.08,1053.26 L1390.08,1095.53 L1381.76,1100.70 L1373.43,1105.88 L1365.10,1111.05 L1356.78,1116.23 L1348.45,1121.41 L1340.12,1126.59 L1331.80,1131.77 L1323.47,1136.96 L1315.15,1142.15 L1306.82,1147.34 L1298.49,1152.53 L1290.17,1157.73 L1281.84,1162.94 L1273.51,1168.15 L1265.19,1173.37 L1256.86,1178.59 L1248.53,1183.82 L1240.21,1189.06 L1231.88,1194.31 L1223.56,1199.57 L1215.23,1204.84 L1206.90,1210.13 L1198.58,1215.44 L1190.25,1220.77 L1181.92,1226.12 L1173.60,1231.50 L1165.27,1236.91 L1156.94,1242.37 L1148.62,1247.86 L1140.29,1253.40 L1131.97,1259.00 L1123.64,1264.66 L1115.31,1270.37 L1106.99,1276.15 L1098.66,1281.99 L1090.33,1287.89 L1082.01,1293.84 L1073.68,1299.84 L1065.35,1305.89 L1057.03,1311.98 L1048.70,1318.10 L1040.38,1324.26 L1032.05,1330.43 L1023.72,1336.63 L1015.40,1342.85 L1007.07,1349.09 L998.74,1355.34 L990.42,1361.60 L982.09,1367.87 L973.76,1374.15 L965.44,1380.44 L957.11,1386.73 L948.78,1393.03 L940.46,1399.34 L932.13,1405.65 L923.81,1411.97 L915.48,1418.29 L907.15,1424.61 L898.83,1430.94 L890.50,1437.27 Z" fill="#cfcfcf" fill-opacity="0.55"/>
<line x1="890.50" y1="1419.81" x2="1390.08" y2="1074.39" stroke="#000" stroke-width="4.8"/>
<rect x="878.2" y="939" width="570.4" height="569.8" fill="none" stroke="#000" stroke-width="2.4"/>
</g>
<g id="texts">
<path transform="translate(923.00,177.20) scale(1.0053,1.0033)" d="M1.85,29.65 L1.85,8.65 C1.85,4.15 4.85,1.85 8.65,1.85 C12.65,1.85 15.05,4.65 15.05,8.15 C15.05,11.65 12.35,13.85 9.35,13.85 L6.85,13.85 M9.35,13.85 C14.35,13.85 16.85,17.15 16.85,21.25 C16.85,25.65 13.65,28.75 9.35,28.75 L6.85,28.75" fill="none" stroke="#000" stroke-width="3.7"/>
<path transform="translate(1188.00,487.20) scale(0.9947,0.9869)" d="M1.85,29.65 L1.85,8.65 C1.85,4.15 4.85,1.85 8.65,1.85 C12.65,1.85 15.05,4.65 15.05,8.15 C15.05,11.65 12.35,13.85 9.35,13.85 L6.85,13.85 M9.35,13.85 C14.35,13.85 16.85,17.15 16.85,21.25 C16.85,25.65 13.65,28.75 9.35,28.75 L6.85,28.75" fill="none" stroke="#000" stroke-width="3.7"/>
<path transform="translate(920.10,970.00) scale(1.0000,0.9935)" d="M1.85,29.65 L1.85,8.65 C1.85,4.15 4.85,1.85 8.65,1.85 C12.65,1.85 15.05,4.65 15.05,8.15 C15.05,11.65 12.35,13.85 9.35,13.85 L6.85,13.85 M9.35,13.85 C14.35,13.85 16.85,17.15 16.85,21.25 C16.85,25.65 13.65,28.75 9.35,28.75 L6.85,28.75" fill="none" stroke="#000" stroke-width="3.7"/>
<text x="386.01" y="33.79" font-size="37.23" text-anchor="middle">Final Decisions choices</text>
<text x="1159.09" y="29.21" font-size="37.25" text-anchor="middle">Choice model predictions</text>
<text x="405.67" y="851.80" font-size="37.24" text-anchor="middle">Outcome Estimation reports</text>
<text x="1164.38" y="849.79" font-size="37.23" text-anchor="middle">Choices and outcome estimations</text>
<text x="1164.45" y="895.46" font-size="37.33" text-anchor="middle">Unchosen pairs</text>
<text x="-2.58" y="32.47" font-size="45.50" font-weight="bold">a</text>
<text x="748.40" y="31.80" font-size="45.50" font-weight="bold">b</text>
<text x="-1.38" y="849.00" font-size="45.50" font-weight="bold">c</text>
<text x="748.50" y="849.80" font-size="45.50" font-weight="bold">d</text>
<text x="132.62" y="98.90" font-size="32.00" text-anchor="end">1.0</text>
<text x="132.64" y="394.90" font-size="32.00" text-anchor="end">0.5</text>
<text x="132.62" y="690.88" font-size="32.00" text-anchor="end">0.0</text>
<text x="869.19" y="110.20" font-size="32.00" text-anchor="end">1.0</text>
<text x="868.64" y="389.00" font-size="32.00" text-anchor="end">0.5</text>
<text x="869.00" y="668.88" font-size="32.00" text-anchor="end">0.0</text>
<text x="133.42" y="960.80" font-size="32.00" text-anchor="end">1.0</text>
<text x="133.38" y="1239.80" font-size="32.00" text-anchor="end">0.5</text>
<text x="133.42" y="1519.58" font-size="32.00" text-anchor="end">0.0</text>
<text x="869.44" y="975.00" font-size="32.00" text-anchor="end">0.5</text>
<text x="869.19" y="1235.38" font-size="32.00" text-anchor="end">0.0</text>
<text x="869.44" y="1496.00" font-size="32.00" text-anchor="end">−0.5</text>
<text x="877.27" y="688.38" font-size="32.00" text-anchor="middle">−2</text>
<text x="1018.04" y="688.00" font-size="32.00" text-anchor="middle">−1</text>
<text x="1163.11" y="688.08" font-size="32.00" text-anchor="middle">0</text>
<text x="1304.19" y="688.00" font-size="32.00" text-anchor="middle">1</text>
<text x="1449.46" y="687.98" font-size="32.00" text-anchor="middle">2</text>
<text x="889.64" y="1540.20" font-size="32.00" text-anchor="middle">−1</text>
<text x="1162.18" y="1541.18" font-size="32.00" text-anchor="middle">0</text>
<text x="1435.12" y="1540.20" font-size="32.00" text-anchor="middle">1</text>
<text transform="translate(58.45,385.77) rotate(-90)" font-size="32.70" text-anchor="middle">p(select S+)</text>
<text transform="translate(794.93,385.92) rotate(-90)" font-size="32.66" text-anchor="middle">Predicted p(select S+)</text>
<text transform="translate(66.84,1230.50) rotate(-90)" font-size="35.70" text-anchor="middle">p(estimate as S+)</text>
<text transform="translate(762.64,1217.06) rotate(-90)" font-size="32.77" text-anchor="middle">p(select S+) − 0.5</text>
<text transform="translate(802.96,1216.98) rotate(-90)" font-size="32.74" text-anchor="middle">Final Decisions</text>
<text x="1179.59" y="738.45" font-size="32.61" text-anchor="middle">Normalized Δratings</text>
<text x="1184.43" y="776.92" font-size="32.79" text-anchor="middle">(S+ - S0)</text>
<text x="1180.13" y="1582.57" font-size="32.87" text-anchor="middle">Inverse Estimation Score</text>
<text x="859.80" y="1621.30" font-size="32.70">p(estimate S+ as S+) - p(estimate S0 as S+)</text>
<text x="209.65" y="718.82" font-size="43.62">S</text>
<text x="236.55" y="732.30" font-size="25.49">chosen</text>
<text x="264.82" y="766.49" font-size="31.24" text-anchor="middle">(learned)</text>
<text x="424.02" y="719.03" font-size="44.56">S</text>
<text x="451.31" y="732.30" font-size="25.44">unchosen</text>
<text x="494.59" y="767.71" font-size="31.30" text-anchor="middle">(inferred)</text>
<text x="234.79" y="1571.81" font-size="43.62">S</text>
<text x="261.70" y="1585.70" font-size="25.52">chosen</text>
<text x="290.11" y="1618.99" font-size="31.21" text-anchor="middle">(learned)</text>
<text x="472.44" y="1572.18" font-size="41.90">S</text>
<text x="498.66" y="1586.40" font-size="25.39">unchosen</text>
<text x="542.59" y="1621.69" font-size="31.30" text-anchor="middle">(inferred)</text>
<text x="541.76" y="984.91" font-size="29.64">S+</text>
<text x="541.80" y="1015.78" font-size="29.51">S0</text>
<text x="943.34" y="221.69" font-size="24.29">Chosen Intercept</text>
<text x="1024.86" y="262.43" font-size="29.75" text-anchor="middle">3.40 [3.18, 3.63]*</text>
<text x="1208.07" y="530.74" font-size="24.25">Unchosen Intercept</text>
<text x="1302.08" y="569.93" font-size="29.61" text-anchor="middle">−0.42 [−0.56, −0.27]*</text>
<text x="940.39" y="1013.55" font-size="24.36">Unchosen Slope</text>
<text x="1021.51" y="1055.69" font-size="29.67" text-anchor="middle">0.37 [0.33, 0.40]*</text>
</g>
</svg>
</body></html>
